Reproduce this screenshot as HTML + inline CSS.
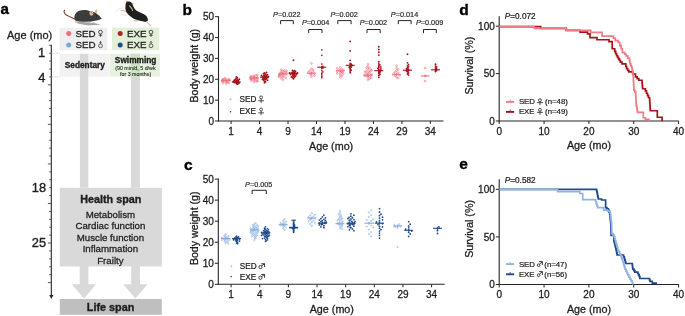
<!DOCTYPE html>
<html><head><meta charset="utf-8"><style>
html,body{margin:0;padding:0;background:#fff;}
svg{display:block;font-family:"Liberation Sans", sans-serif;will-change:transform;filter:blur(0.3px);}
</style></head><body>
<svg width="685" height="316" viewBox="0 0 685 316">
<rect width="685" height="316" fill="#fff"/>
<text x="0.6" y="14.2" font-size="15.2" text-anchor="start" font-weight="bold" font-style="normal" fill="#000" stroke="#000" stroke-width="0.35" >a</text>
<text x="7.0" y="39.2" font-size="11.0" text-anchor="start" font-weight="normal" font-style="normal" fill="#1e1e1e" stroke="#1e1e1e" stroke-width="0.308" >Age (mo)</text>
<rect x="59.7" y="27.8" width="47.5" height="22.4" fill="#efefef"/>
<rect x="112" y="27.6" width="47.2" height="22.6" fill="#e2f0d9"/>
<rect x="59.7" y="53.8" width="49.5" height="22.8" fill="#f2f2f2"/>
<rect x="109.7" y="53.8" width="50.3" height="22.8" fill="#e6f2de"/>
<rect x="79.9" y="53.8" width="8.4" height="134" fill="#d9d9d9"/>
<rect x="130.9" y="53.8" width="9" height="134" fill="#d9d9d9"/>
<rect x="130.9" y="53.8" width="9" height="22.8" fill="#cde3bf"/>
<rect x="59.8" y="187.8" width="102" height="78.7" fill="#d9d9d9"/>
<path d="M79.7 266 H88.4 V284.3 H96.2 L84 298.6 L71.8 284.3 H79.7 Z" fill="#d9d9d9" stroke="none" stroke-width="1" />
<path d="M131.2 266 H139.9 V284.3 H147.5 L135.3 298.6 L123.2 284.3 H131.2 Z" fill="#d9d9d9" stroke="none" stroke-width="1" />
<rect x="59.8" y="299" width="102" height="15.8" fill="#bfbfbf"/>
<circle cx="68.7" cy="33.5" r="2.5" fill="#ef6f7c"/>
<circle cx="68.7" cy="44.9" r="2.5" fill="#7fa6d8"/>
<circle cx="120.2" cy="33.5" r="2.5" fill="#b3232b"/>
<circle cx="120.2" cy="44.9" r="2.5" fill="#254a8c"/>
<text x="75.4" y="36.7" font-size="9.8" text-anchor="start" font-weight="normal" font-style="normal" fill="#1e1e1e" stroke="#1e1e1e" stroke-width="0.27440000000000003" >SED</text>
<text x="75.4" y="47.9" font-size="9.8" text-anchor="start" font-weight="normal" font-style="normal" fill="#1e1e1e" stroke="#1e1e1e" stroke-width="0.27440000000000003" >SED</text>
<text x="127.0" y="36.7" font-size="9.8" text-anchor="start" font-weight="normal" font-style="normal" fill="#1e1e1e" stroke="#1e1e1e" stroke-width="0.27440000000000003" >EXE</text>
<text x="127.0" y="47.9" font-size="9.8" text-anchor="start" font-weight="normal" font-style="normal" fill="#1e1e1e" stroke="#1e1e1e" stroke-width="0.27440000000000003" >EXE</text>
<circle cx="100.50" cy="32.10" r="1.87" fill="none" stroke="#333" stroke-width="0.85"/>
<line x1="100.5" y1="33.975" x2="100.5" y2="36.8" stroke="#333" stroke-width="0.85" />
<line x1="98.8" y1="35.246249999999996" x2="102.2" y2="35.246249999999996" stroke="#333" stroke-width="0.85" />
<circle cx="100.50" cy="45.80" r="1.92" fill="none" stroke="#333" stroke-width="0.75"/>
<line x1="100.5" y1="43.87500000000001" x2="100.5" y2="41.5" stroke="#333" stroke-width="0.75" />
<path d="M99.40 42.60 L100.50 41.40 L101.60 42.60" fill="none" stroke="#333" stroke-width="0.75" />
<circle cx="151.00" cy="32.10" r="1.87" fill="none" stroke="#333" stroke-width="0.85"/>
<line x1="151.0" y1="33.975" x2="151.0" y2="36.8" stroke="#333" stroke-width="0.85" />
<line x1="149.3" y1="35.246249999999996" x2="152.7" y2="35.246249999999996" stroke="#333" stroke-width="0.85" />
<circle cx="151.00" cy="45.80" r="1.92" fill="none" stroke="#333" stroke-width="0.75"/>
<line x1="151.0" y1="43.87500000000001" x2="151.0" y2="41.5" stroke="#333" stroke-width="0.75" />
<path d="M149.90 42.60 L151.00 41.40 L152.10 42.60" fill="none" stroke="#333" stroke-width="0.75" />
<text x="84.8" y="67.8" font-size="8.3" text-anchor="middle" font-weight="bold" font-style="normal" fill="#1e1e1e" stroke="#1e1e1e" stroke-width="0.35" >Sedentary</text>
<text x="135.6" y="63.1" font-size="8.3" text-anchor="middle" font-weight="bold" font-style="normal" fill="#1e1e1e" stroke="#1e1e1e" stroke-width="0.35" >Swimming</text>
<text x="135.4" y="70.3" font-size="5.3" text-anchor="middle" font-weight="normal" font-style="normal" fill="#1e1e1e" stroke="#1e1e1e" stroke-width="0.1" >(90 min/d, 5 d/wk</text>
<text x="135.6" y="75.9" font-size="5.3" text-anchor="middle" font-weight="normal" font-style="normal" fill="#1e1e1e" stroke="#1e1e1e" stroke-width="0.1" >for 3 months)</text>
<line x1="51.3" y1="44.8" x2="51.3" y2="296" stroke="#262626" stroke-width="1.1" />
<path d="M49.2 295 L53.4 295 L51.3 299 Z" fill="#262626" stroke="none" stroke-width="1" />
<line x1="49.2" y1="45.290000000000006" x2="51.5" y2="45.290000000000006" stroke="#444" stroke-width="0.9" />
<line x1="49.2" y1="53.2" x2="51.5" y2="53.2" stroke="#444" stroke-width="0.9" />
<line x1="49.2" y1="61.11" x2="51.5" y2="61.11" stroke="#444" stroke-width="0.9" />
<line x1="49.2" y1="69.02000000000001" x2="51.5" y2="69.02000000000001" stroke="#444" stroke-width="0.9" />
<line x1="49.2" y1="76.93" x2="51.5" y2="76.93" stroke="#444" stroke-width="0.9" />
<line x1="47.9" y1="84.84" x2="51.5" y2="84.84" stroke="#444" stroke-width="0.9" />
<line x1="49.2" y1="92.75" x2="51.5" y2="92.75" stroke="#444" stroke-width="0.9" />
<line x1="49.2" y1="100.66" x2="51.5" y2="100.66" stroke="#444" stroke-width="0.9" />
<line x1="49.2" y1="108.57000000000001" x2="51.5" y2="108.57000000000001" stroke="#444" stroke-width="0.9" />
<line x1="49.2" y1="116.48" x2="51.5" y2="116.48" stroke="#444" stroke-width="0.9" />
<line x1="47.9" y1="124.39" x2="51.5" y2="124.39" stroke="#444" stroke-width="0.9" />
<line x1="49.2" y1="132.3" x2="51.5" y2="132.3" stroke="#444" stroke-width="0.9" />
<line x1="49.2" y1="140.21" x2="51.5" y2="140.21" stroke="#444" stroke-width="0.9" />
<line x1="49.2" y1="148.12" x2="51.5" y2="148.12" stroke="#444" stroke-width="0.9" />
<line x1="49.2" y1="156.03" x2="51.5" y2="156.03" stroke="#444" stroke-width="0.9" />
<line x1="47.9" y1="163.94" x2="51.5" y2="163.94" stroke="#444" stroke-width="0.9" />
<line x1="49.2" y1="171.85000000000002" x2="51.5" y2="171.85000000000002" stroke="#444" stroke-width="0.9" />
<line x1="49.2" y1="179.76" x2="51.5" y2="179.76" stroke="#444" stroke-width="0.9" />
<line x1="49.2" y1="187.67000000000002" x2="51.5" y2="187.67000000000002" stroke="#444" stroke-width="0.9" />
<line x1="49.2" y1="195.57999999999998" x2="51.5" y2="195.57999999999998" stroke="#444" stroke-width="0.9" />
<line x1="47.9" y1="203.49" x2="51.5" y2="203.49" stroke="#444" stroke-width="0.9" />
<line x1="49.2" y1="211.39999999999998" x2="51.5" y2="211.39999999999998" stroke="#444" stroke-width="0.9" />
<line x1="49.2" y1="219.31" x2="51.5" y2="219.31" stroke="#444" stroke-width="0.9" />
<line x1="49.2" y1="227.22000000000003" x2="51.5" y2="227.22000000000003" stroke="#444" stroke-width="0.9" />
<line x1="49.2" y1="235.13" x2="51.5" y2="235.13" stroke="#444" stroke-width="0.9" />
<line x1="47.9" y1="243.04000000000002" x2="51.5" y2="243.04000000000002" stroke="#444" stroke-width="0.9" />
<line x1="49.2" y1="250.95" x2="51.5" y2="250.95" stroke="#444" stroke-width="0.9" />
<line x1="49.2" y1="258.86" x2="51.5" y2="258.86" stroke="#444" stroke-width="0.9" />
<line x1="49.2" y1="266.77" x2="51.5" y2="266.77" stroke="#444" stroke-width="0.9" />
<line x1="49.2" y1="274.68" x2="51.5" y2="274.68" stroke="#444" stroke-width="0.9" />
<line x1="47.9" y1="282.59000000000003" x2="51.5" y2="282.59000000000003" stroke="#444" stroke-width="0.9" />
<text x="45.2" y="57.1" font-size="12.8" text-anchor="end" font-weight="normal" font-style="normal" fill="#1e1e1e" stroke="#1e1e1e" stroke-width="0.35840000000000005" >1</text>
<text x="45.4" y="81.63000000000001" font-size="12.8" text-anchor="end" font-weight="normal" font-style="normal" fill="#1e1e1e" stroke="#1e1e1e" stroke-width="0.35840000000000005" >4</text>
<text x="46.0" y="192.37" font-size="12.8" text-anchor="end" font-weight="normal" font-style="normal" fill="#1e1e1e" stroke="#1e1e1e" stroke-width="0.35840000000000005" >18</text>
<text x="46.0" y="246.94000000000003" font-size="12.8" text-anchor="end" font-weight="normal" font-style="normal" fill="#1e1e1e" stroke="#1e1e1e" stroke-width="0.35840000000000005" >25</text>
<line x1="51.5" y1="53.2" x2="59.7" y2="53.2" stroke="#aaa" stroke-width="0.6" stroke-dasharray="1.5 1"/>
<line x1="51.5" y1="76.93" x2="59.7" y2="76.93" stroke="#aaa" stroke-width="0.6" stroke-dasharray="1.5 1"/>
<text x="110.75" y="203.1" font-size="10.8" text-anchor="middle" font-weight="bold" font-style="normal" fill="#1e1e1e" stroke="#1e1e1e" stroke-width="0.35" >Health span</text>
<text x="110.4" y="217.6" font-size="9.7" text-anchor="middle" font-weight="normal" font-style="normal" fill="#1e1e1e" stroke="#1e1e1e" stroke-width="0.2716" >Metabolism</text>
<text x="110.4" y="229.1" font-size="9.7" text-anchor="middle" font-weight="normal" font-style="normal" fill="#1e1e1e" stroke="#1e1e1e" stroke-width="0.2716" >Cardiac function</text>
<text x="110.4" y="240.6" font-size="9.7" text-anchor="middle" font-weight="normal" font-style="normal" fill="#1e1e1e" stroke="#1e1e1e" stroke-width="0.2716" >Muscle function</text>
<text x="110.4" y="252.1" font-size="9.7" text-anchor="middle" font-weight="normal" font-style="normal" fill="#1e1e1e" stroke="#1e1e1e" stroke-width="0.2716" >Inflammation</text>
<text x="110.4" y="263.6" font-size="9.7" text-anchor="middle" font-weight="normal" font-style="normal" fill="#1e1e1e" stroke="#1e1e1e" stroke-width="0.2716" >Frailty</text>
<text x="110.55" y="311" font-size="10.8" text-anchor="middle" font-weight="bold" font-style="normal" fill="#1e1e1e" stroke="#1e1e1e" stroke-width="0.35" >Life span</text>
<path d="M64.6 10.2 C63.6 10.8 64.0 13.0 65.6 14.4 C67.5 16 71 17.4 74.8 18.9" fill="none" stroke="#7a3e30" stroke-width="1.1" stroke-linecap="round"/>
<path d="M77 21.4 C84 22 94 22.4 101 24.6 C92 25.8 83 25.2 77 23.2 Z" fill="#8a8a8a" stroke="none" stroke-width="1" opacity="0.8"/>
<path d="M74.3 18 C74.2 14.5 76.2 11.8 79.2 10.8 C82.5 9.7 87 9.8 90 11.2 C92.5 11.6 94.8 12 96.5 13.4 C98.5 14.8 100.2 16.6 101.6 18.4 C100.5 19.5 98.5 19.9 96.5 20.5 C93 21.4 89 21.8 85 21.7 C81 21.7 77 21.3 75.3 20.4 C74.6 19.7 74.3 19 74.3 18 Z" fill="#3c3c3c" stroke="none" stroke-width="1" />
<path d="M89.4 12.4 C89.8 10.9 92 10.8 93.2 12 C94 13.2 93.2 15.4 91.6 15.8 C90.2 16 89.2 14 89.4 12.4 Z" fill="#d9b896" stroke="none" stroke-width="1" />
<path d="M90.6 12.6 C91.4 12.2 92.4 12.8 92.4 13.8" fill="none" stroke="#9b5a44" stroke-width="0.5" />
<path d="M94.6 12.4 C94.6 11 95.6 9.8 96.8 9.6 C97.4 10.6 97.4 12 96.8 13.4 Z" fill="#d9b896" stroke="none" stroke-width="1" />
<circle cx="96.5" cy="15.9" r="0.55" fill="#111"/>
<circle cx="101.6" cy="18.5" r="0.45" fill="#c0504d"/>
<path d="M74.6 21 C76 20.8 77.8 21.6 78.2 22.6 L75.8 22.9 Z" fill="#d9b896" stroke="none" stroke-width="1" />
<path d="M88 21.4 C89.5 21.6 90.8 22.6 91.4 23.8 L89 23.6 Z" fill="#d9b896" stroke="none" stroke-width="1" />
<path d="M92.6 21.8 C93.6 22 94.4 22.6 94.8 23.4 L93 23.4 Z" fill="#d9b896" stroke="none" stroke-width="1" />
<path d="M115.8 11.8 C117 9.4 119.6 8.2 122.8 8" fill="none" stroke="#cfcfcf" stroke-width="0.55" />
<path d="M120.2 13.2 C121.5 14.8 123.8 15.6 126.4 15.5" fill="none" stroke="#cfcfcf" stroke-width="0.55" />
<path d="M142 10.4 C142.8 10.8 143.2 11.4 143.2 12.1" fill="none" stroke="#d6d6d6" stroke-width="0.5" />
<path d="M126.4 2.0 C127.6 1 130.2 1.2 131.6 2.8 C132.8 4.6 133.4 7.4 135.4 9.8 C137.4 11.8 140.6 12.6 143.6 13.9 C146.4 15.3 148.2 17.6 147.9 20.2 C147.4 21.8 145.8 22 143.8 21.6 C141.2 21.1 138.4 20.5 135.6 19.5 C132.4 18.2 129.6 16.2 127.8 14.0 C126 12.0 125.2 9.6 125.4 7.2 C125.6 5.2 125.6 3.2 126.4 2.0 Z" fill="#1f1f1f" stroke="none" stroke-width="1" />
<path d="M129.6 5.8 C131 7.2 132.2 8.8 132.6 10.4" fill="none" stroke="#d9b896" stroke-width="1.1" stroke-linecap="round"/>
<path d="M121.1 10.4 C122.5 10.2 124 10.6 125.4 11.2" fill="none" stroke="#d9b896" stroke-width="1.1" stroke-linecap="round"/>
<path d="M134.4 20.4 C135.6 20.8 136.8 21 137.9 20.9" fill="none" stroke="#d9b896" stroke-width="1.1" stroke-linecap="round"/>
<path d="M146.8 21.8 C148 23 149.4 24.4 150.3 25.6" fill="none" stroke="#d9b896" stroke-width="1.1" stroke-linecap="round"/>
<circle cx="127.2" cy="1.5" r="0.7" fill="#c86464"/>
<path d="M131.6 3.2 C132.4 2.9 133 3.4 132.8 4.2" fill="none" stroke="#8a5040" stroke-width="0.7" />
<text x="182.4" y="14.7" font-size="15.5" text-anchor="start" font-weight="bold" font-style="normal" fill="#000" stroke="#000" stroke-width="0.35" >b</text>
<line x1="218.5" y1="16.2" x2="218.5" y2="121.5" stroke="#262626" stroke-width="1.1" />
<line x1="218.0" y1="121" x2="443.5" y2="121" stroke="#262626" stroke-width="1.1" />
<line x1="215.0" y1="121.0" x2="218.5" y2="121.0" stroke="#262626" stroke-width="1" />
<text x="214.0" y="124.6" font-size="10" text-anchor="end" font-weight="normal" font-style="normal" fill="#1e1e1e" stroke="#1e1e1e" stroke-width="0.28" >0</text>
<line x1="215.0" y1="100.14" x2="218.5" y2="100.14" stroke="#262626" stroke-width="1" />
<text x="214.0" y="103.74" font-size="10" text-anchor="end" font-weight="normal" font-style="normal" fill="#1e1e1e" stroke="#1e1e1e" stroke-width="0.28" >10</text>
<line x1="215.0" y1="79.28" x2="218.5" y2="79.28" stroke="#262626" stroke-width="1" />
<text x="214.0" y="82.88" font-size="10" text-anchor="end" font-weight="normal" font-style="normal" fill="#1e1e1e" stroke="#1e1e1e" stroke-width="0.28" >20</text>
<line x1="215.0" y1="58.42" x2="218.5" y2="58.42" stroke="#262626" stroke-width="1" />
<text x="214.0" y="62.02" font-size="10" text-anchor="end" font-weight="normal" font-style="normal" fill="#1e1e1e" stroke="#1e1e1e" stroke-width="0.28" >30</text>
<line x1="215.0" y1="37.56" x2="218.5" y2="37.56" stroke="#262626" stroke-width="1" />
<text x="214.0" y="41.160000000000004" font-size="10" text-anchor="end" font-weight="normal" font-style="normal" fill="#1e1e1e" stroke="#1e1e1e" stroke-width="0.28" >40</text>
<line x1="215.0" y1="16.700000000000003" x2="218.5" y2="16.700000000000003" stroke="#262626" stroke-width="1" />
<text x="214.0" y="20.300000000000004" font-size="10" text-anchor="end" font-weight="normal" font-style="normal" fill="#1e1e1e" stroke="#1e1e1e" stroke-width="0.28" >50</text>
<line x1="231.1" y1="121" x2="231.1" y2="124" stroke="#262626" stroke-width="1" />
<text x="231.1" y="134.5" font-size="10" text-anchor="middle" font-weight="normal" font-style="normal" fill="#1e1e1e" stroke="#1e1e1e" stroke-width="0.28" >1</text>
<line x1="259.57" y1="121" x2="259.57" y2="124" stroke="#262626" stroke-width="1" />
<text x="259.57" y="134.5" font-size="10" text-anchor="middle" font-weight="normal" font-style="normal" fill="#1e1e1e" stroke="#1e1e1e" stroke-width="0.28" >4</text>
<line x1="288.03999999999996" y1="121" x2="288.03999999999996" y2="124" stroke="#262626" stroke-width="1" />
<text x="288.03999999999996" y="134.5" font-size="10" text-anchor="middle" font-weight="normal" font-style="normal" fill="#1e1e1e" stroke="#1e1e1e" stroke-width="0.28" >9</text>
<line x1="316.51" y1="121" x2="316.51" y2="124" stroke="#262626" stroke-width="1" />
<text x="316.51" y="134.5" font-size="10" text-anchor="middle" font-weight="normal" font-style="normal" fill="#1e1e1e" stroke="#1e1e1e" stroke-width="0.28" >14</text>
<line x1="344.98" y1="121" x2="344.98" y2="124" stroke="#262626" stroke-width="1" />
<text x="344.98" y="134.5" font-size="10" text-anchor="middle" font-weight="normal" font-style="normal" fill="#1e1e1e" stroke="#1e1e1e" stroke-width="0.28" >19</text>
<line x1="373.45" y1="121" x2="373.45" y2="124" stroke="#262626" stroke-width="1" />
<text x="373.45" y="134.5" font-size="10" text-anchor="middle" font-weight="normal" font-style="normal" fill="#1e1e1e" stroke="#1e1e1e" stroke-width="0.28" >24</text>
<line x1="401.91999999999996" y1="121" x2="401.91999999999996" y2="124" stroke="#262626" stroke-width="1" />
<text x="401.91999999999996" y="134.5" font-size="10" text-anchor="middle" font-weight="normal" font-style="normal" fill="#1e1e1e" stroke="#1e1e1e" stroke-width="0.28" >29</text>
<line x1="430.39" y1="121" x2="430.39" y2="124" stroke="#262626" stroke-width="1" />
<text x="430.39" y="134.5" font-size="10" text-anchor="middle" font-weight="normal" font-style="normal" fill="#1e1e1e" stroke="#1e1e1e" stroke-width="0.28" >34</text>
<text x="331.1" y="149.9" font-size="10.75" text-anchor="middle" font-weight="normal" font-style="normal" fill="#1e1e1e" stroke="#1e1e1e" stroke-width="0.301" >Age (mo)</text>
<text transform="translate(198.1 65.7) rotate(-90)" font-size="10.6" text-anchor="middle" fill="#1e1e1e" stroke="#1e1e1e" stroke-width="0.29">Body weight (g)</text>
<circle cx="225.80" cy="80.62" r="0.9000000000000001" fill="none" stroke="#ee7482" stroke-width="0.62"/>
<circle cx="228.80" cy="80.36" r="0.9000000000000001" fill="none" stroke="#ee7482" stroke-width="0.62"/>
<circle cx="222.80" cy="80.66" r="0.9000000000000001" fill="none" stroke="#ee7482" stroke-width="0.62"/>
<circle cx="229.80" cy="80.25" r="0.9000000000000001" fill="none" stroke="#ee7482" stroke-width="0.62"/>
<circle cx="221.99" cy="80.82" r="0.9000000000000001" fill="none" stroke="#ee7482" stroke-width="0.62"/>
<circle cx="228.81" cy="79.90" r="0.9000000000000001" fill="none" stroke="#ee7482" stroke-width="0.62"/>
<circle cx="224.03" cy="79.89" r="0.9000000000000001" fill="none" stroke="#ee7482" stroke-width="0.62"/>
<circle cx="222.81" cy="79.78" r="0.9000000000000001" fill="none" stroke="#ee7482" stroke-width="0.62"/>
<circle cx="222.59" cy="81.22" r="0.9000000000000001" fill="none" stroke="#ee7482" stroke-width="0.62"/>
<circle cx="224.19" cy="81.49" r="0.9000000000000001" fill="none" stroke="#ee7482" stroke-width="0.62"/>
<circle cx="228.46" cy="79.32" r="0.9000000000000001" fill="none" stroke="#ee7482" stroke-width="0.62"/>
<circle cx="227.30" cy="81.68" r="0.9000000000000001" fill="none" stroke="#ee7482" stroke-width="0.62"/>
<circle cx="223.12" cy="79.26" r="0.9000000000000001" fill="none" stroke="#ee7482" stroke-width="0.62"/>
<circle cx="226.49" cy="81.81" r="0.9000000000000001" fill="none" stroke="#ee7482" stroke-width="0.62"/>
<circle cx="225.80" cy="78.68" r="0.9000000000000001" fill="none" stroke="#ee7482" stroke-width="0.62"/>
<circle cx="226.97" cy="82.34" r="0.9000000000000001" fill="none" stroke="#ee7482" stroke-width="0.62"/>
<circle cx="224.73" cy="78.28" r="0.9000000000000001" fill="none" stroke="#ee7482" stroke-width="0.62"/>
<circle cx="228.80" cy="82.86" r="0.9000000000000001" fill="none" stroke="#ee7482" stroke-width="0.62"/>
<circle cx="222.80" cy="83.05" r="0.9000000000000001" fill="none" stroke="#ee7482" stroke-width="0.62"/>
<circle cx="226.20" cy="83.53" r="0.9000000000000001" fill="none" stroke="#ee7482" stroke-width="0.62"/>
<line x1="221.3" y1="80.5" x2="230.3" y2="80.5" stroke="#ee7482" stroke-width="1.1" />
<line x1="225.8" y1="79.3" x2="225.8" y2="81.7" stroke="#ee7482" stroke-width="1.1" />
<circle cx="236.30" cy="82.05" r="0.95" fill="#a8121a"/>
<circle cx="238.30" cy="81.85" r="0.95" fill="#a8121a"/>
<circle cx="234.30" cy="82.50" r="0.95" fill="#a8121a"/>
<circle cx="235.30" cy="81.44" r="0.95" fill="#a8121a"/>
<circle cx="233.30" cy="81.42" r="0.95" fill="#a8121a"/>
<circle cx="237.30" cy="82.67" r="0.95" fill="#a8121a"/>
<circle cx="239.30" cy="82.70" r="0.95" fill="#a8121a"/>
<circle cx="237.30" cy="81.24" r="0.95" fill="#a8121a"/>
<circle cx="236.30" cy="80.67" r="0.95" fill="#a8121a"/>
<circle cx="236.30" cy="83.35" r="0.95" fill="#a8121a"/>
<circle cx="238.30" cy="83.45" r="0.95" fill="#a8121a"/>
<circle cx="238.30" cy="80.47" r="0.95" fill="#a8121a"/>
<circle cx="234.30" cy="80.24" r="0.95" fill="#a8121a"/>
<circle cx="237.30" cy="84.13" r="0.95" fill="#a8121a"/>
<circle cx="237.30" cy="79.74" r="0.95" fill="#a8121a"/>
<circle cx="235.30" cy="79.44" r="0.95" fill="#a8121a"/>
<circle cx="239.30" cy="79.18" r="0.95" fill="#a8121a"/>
<circle cx="236.30" cy="78.42" r="0.95" fill="#a8121a"/>
<circle cx="237.30" cy="77.75" r="0.95" fill="#a8121a"/>
<circle cx="236.30" cy="76.90" r="0.95" fill="#a8121a"/>
<line x1="231.8" y1="82" x2="240.8" y2="82" stroke="#a8121a" stroke-width="1.1" />
<line x1="236.3" y1="80.6" x2="236.3" y2="83.4" stroke="#a8121a" stroke-width="1.1" />
<circle cx="254.30" cy="78.01" r="0.9000000000000001" fill="none" stroke="#ee7482" stroke-width="0.62"/>
<circle cx="257.30" cy="77.87" r="0.9000000000000001" fill="none" stroke="#ee7482" stroke-width="0.62"/>
<circle cx="251.30" cy="78.20" r="0.9000000000000001" fill="none" stroke="#ee7482" stroke-width="0.62"/>
<circle cx="255.72" cy="78.33" r="0.9000000000000001" fill="none" stroke="#ee7482" stroke-width="0.62"/>
<circle cx="250.29" cy="77.54" r="0.9000000000000001" fill="none" stroke="#ee7482" stroke-width="0.62"/>
<circle cx="253.98" cy="77.43" r="0.9000000000000001" fill="none" stroke="#ee7482" stroke-width="0.62"/>
<circle cx="251.51" cy="78.78" r="0.9000000000000001" fill="none" stroke="#ee7482" stroke-width="0.62"/>
<circle cx="251.08" cy="77.11" r="0.9000000000000001" fill="none" stroke="#ee7482" stroke-width="0.62"/>
<circle cx="250.60" cy="79.02" r="0.9000000000000001" fill="none" stroke="#ee7482" stroke-width="0.62"/>
<circle cx="256.55" cy="76.97" r="0.9000000000000001" fill="none" stroke="#ee7482" stroke-width="0.62"/>
<circle cx="251.19" cy="79.07" r="0.9000000000000001" fill="none" stroke="#ee7482" stroke-width="0.62"/>
<circle cx="252.18" cy="79.30" r="0.9000000000000001" fill="none" stroke="#ee7482" stroke-width="0.62"/>
<circle cx="253.38" cy="76.62" r="0.9000000000000001" fill="none" stroke="#ee7482" stroke-width="0.62"/>
<circle cx="257.42" cy="79.39" r="0.9000000000000001" fill="none" stroke="#ee7482" stroke-width="0.62"/>
<circle cx="254.30" cy="79.97" r="0.9000000000000001" fill="none" stroke="#ee7482" stroke-width="0.62"/>
<circle cx="250.78" cy="75.92" r="0.9000000000000001" fill="none" stroke="#ee7482" stroke-width="0.62"/>
<circle cx="253.87" cy="75.82" r="0.9000000000000001" fill="none" stroke="#ee7482" stroke-width="0.62"/>
<circle cx="254.72" cy="80.26" r="0.9000000000000001" fill="none" stroke="#ee7482" stroke-width="0.62"/>
<circle cx="251.30" cy="80.83" r="0.9000000000000001" fill="none" stroke="#ee7482" stroke-width="0.62"/>
<circle cx="255.80" cy="75.16" r="0.9000000000000001" fill="none" stroke="#ee7482" stroke-width="0.62"/>
<circle cx="257.30" cy="81.14" r="0.9000000000000001" fill="none" stroke="#ee7482" stroke-width="0.62"/>
<circle cx="257.52" cy="74.86" r="0.9000000000000001" fill="none" stroke="#ee7482" stroke-width="0.62"/>
<circle cx="256.98" cy="81.32" r="0.9000000000000001" fill="none" stroke="#ee7482" stroke-width="0.62"/>
<circle cx="254.30" cy="82.12" r="0.9000000000000001" fill="none" stroke="#ee7482" stroke-width="0.62"/>
<line x1="249.8" y1="78" x2="258.8" y2="78" stroke="#ee7482" stroke-width="1.1" />
<line x1="254.3" y1="76.8" x2="254.3" y2="79.2" stroke="#ee7482" stroke-width="1.1" />
<circle cx="264.50" cy="77.08" r="0.95" fill="#a8121a"/>
<circle cx="266.50" cy="76.98" r="0.95" fill="#a8121a"/>
<circle cx="262.50" cy="76.93" r="0.95" fill="#a8121a"/>
<circle cx="267.50" cy="77.59" r="0.95" fill="#a8121a"/>
<circle cx="268.50" cy="76.61" r="0.95" fill="#a8121a"/>
<circle cx="265.50" cy="77.84" r="0.95" fill="#a8121a"/>
<circle cx="265.50" cy="76.18" r="0.95" fill="#a8121a"/>
<circle cx="263.50" cy="78.24" r="0.95" fill="#a8121a"/>
<circle cx="263.50" cy="75.89" r="0.95" fill="#a8121a"/>
<circle cx="266.50" cy="75.55" r="0.95" fill="#a8121a"/>
<circle cx="266.50" cy="78.78" r="0.95" fill="#a8121a"/>
<circle cx="261.50" cy="75.34" r="0.95" fill="#a8121a"/>
<circle cx="264.50" cy="78.94" r="0.95" fill="#a8121a"/>
<circle cx="264.50" cy="75.21" r="0.95" fill="#a8121a"/>
<circle cx="262.50" cy="79.18" r="0.95" fill="#a8121a"/>
<circle cx="267.50" cy="74.91" r="0.95" fill="#a8121a"/>
<circle cx="265.50" cy="79.61" r="0.95" fill="#a8121a"/>
<circle cx="265.50" cy="74.16" r="0.95" fill="#a8121a"/>
<circle cx="263.50" cy="80.05" r="0.95" fill="#a8121a"/>
<circle cx="267.50" cy="80.13" r="0.95" fill="#a8121a"/>
<circle cx="263.50" cy="73.69" r="0.95" fill="#a8121a"/>
<circle cx="264.50" cy="81.17" r="0.95" fill="#a8121a"/>
<circle cx="264.50" cy="72.99" r="0.95" fill="#a8121a"/>
<circle cx="265.50" cy="81.74" r="0.95" fill="#a8121a"/>
<circle cx="266.50" cy="72.44" r="0.95" fill="#a8121a"/>
<circle cx="264.50" cy="82.74" r="0.95" fill="#a8121a"/>
<line x1="260.0" y1="77.1" x2="269.0" y2="77.1" stroke="#a8121a" stroke-width="1.1" />
<line x1="264.5" y1="75.69999999999999" x2="264.5" y2="78.5" stroke="#a8121a" stroke-width="1.1" />
<circle cx="282.80" cy="73.90" r="0.9000000000000001" fill="none" stroke="#ee7482" stroke-width="0.62"/>
<circle cx="285.80" cy="74.26" r="0.9000000000000001" fill="none" stroke="#ee7482" stroke-width="0.62"/>
<circle cx="279.80" cy="73.66" r="0.9000000000000001" fill="none" stroke="#ee7482" stroke-width="0.62"/>
<circle cx="286.94" cy="73.56" r="0.9000000000000001" fill="none" stroke="#ee7482" stroke-width="0.62"/>
<circle cx="282.51" cy="74.52" r="0.9000000000000001" fill="none" stroke="#ee7482" stroke-width="0.62"/>
<circle cx="282.66" cy="73.16" r="0.9000000000000001" fill="none" stroke="#ee7482" stroke-width="0.62"/>
<circle cx="279.32" cy="74.99" r="0.9000000000000001" fill="none" stroke="#ee7482" stroke-width="0.62"/>
<circle cx="279.46" cy="75.10" r="0.9000000000000001" fill="none" stroke="#ee7482" stroke-width="0.62"/>
<circle cx="281.48" cy="72.88" r="0.9000000000000001" fill="none" stroke="#ee7482" stroke-width="0.62"/>
<circle cx="284.30" cy="72.47" r="0.9000000000000001" fill="none" stroke="#ee7482" stroke-width="0.62"/>
<circle cx="280.82" cy="72.11" r="0.9000000000000001" fill="none" stroke="#ee7482" stroke-width="0.62"/>
<circle cx="285.56" cy="72.06" r="0.9000000000000001" fill="none" stroke="#ee7482" stroke-width="0.62"/>
<circle cx="284.30" cy="75.95" r="0.9000000000000001" fill="none" stroke="#ee7482" stroke-width="0.62"/>
<circle cx="281.30" cy="76.16" r="0.9000000000000001" fill="none" stroke="#ee7482" stroke-width="0.62"/>
<circle cx="279.96" cy="76.28" r="0.9000000000000001" fill="none" stroke="#ee7482" stroke-width="0.62"/>
<circle cx="282.80" cy="71.31" r="0.9000000000000001" fill="none" stroke="#ee7482" stroke-width="0.62"/>
<circle cx="278.79" cy="76.77" r="0.9000000000000001" fill="none" stroke="#ee7482" stroke-width="0.62"/>
<circle cx="286.59" cy="70.99" r="0.9000000000000001" fill="none" stroke="#ee7482" stroke-width="0.62"/>
<circle cx="282.80" cy="77.31" r="0.9000000000000001" fill="none" stroke="#ee7482" stroke-width="0.62"/>
<circle cx="284.30" cy="70.36" r="0.9000000000000001" fill="none" stroke="#ee7482" stroke-width="0.62"/>
<circle cx="285.80" cy="77.88" r="0.9000000000000001" fill="none" stroke="#ee7482" stroke-width="0.62"/>
<circle cx="281.30" cy="69.71" r="0.9000000000000001" fill="none" stroke="#ee7482" stroke-width="0.62"/>
<circle cx="281.30" cy="78.42" r="0.9000000000000001" fill="none" stroke="#ee7482" stroke-width="0.62"/>
<circle cx="282.80" cy="79.85" r="0.9000000000000001" fill="none" stroke="#ee7482" stroke-width="0.62"/>
<line x1="278.3" y1="74" x2="287.3" y2="74" stroke="#ee7482" stroke-width="1.1" />
<line x1="282.8" y1="72.8" x2="282.8" y2="75.2" stroke="#ee7482" stroke-width="1.1" />
<circle cx="293.50" cy="73.35" r="0.95" fill="#a8121a"/>
<circle cx="295.50" cy="73.46" r="0.95" fill="#a8121a"/>
<circle cx="291.50" cy="73.09" r="0.95" fill="#a8121a"/>
<circle cx="297.50" cy="73.06" r="0.95" fill="#a8121a"/>
<circle cx="289.50" cy="72.95" r="0.95" fill="#a8121a"/>
<circle cx="294.50" cy="72.75" r="0.95" fill="#a8121a"/>
<circle cx="294.50" cy="74.06" r="0.95" fill="#a8121a"/>
<circle cx="292.50" cy="74.16" r="0.95" fill="#a8121a"/>
<circle cx="292.50" cy="72.19" r="0.95" fill="#a8121a"/>
<circle cx="296.50" cy="74.56" r="0.95" fill="#a8121a"/>
<circle cx="290.50" cy="74.56" r="0.95" fill="#a8121a"/>
<circle cx="293.50" cy="74.78" r="0.95" fill="#a8121a"/>
<circle cx="293.50" cy="71.56" r="0.95" fill="#a8121a"/>
<circle cx="295.50" cy="71.49" r="0.95" fill="#a8121a"/>
<circle cx="294.50" cy="75.43" r="0.95" fill="#a8121a"/>
<circle cx="294.50" cy="70.79" r="0.95" fill="#a8121a"/>
<circle cx="292.50" cy="75.86" r="0.95" fill="#a8121a"/>
<circle cx="295.50" cy="76.13" r="0.95" fill="#a8121a"/>
<circle cx="292.50" cy="70.34" r="0.95" fill="#a8121a"/>
<circle cx="293.50" cy="76.48" r="0.95" fill="#a8121a"/>
<circle cx="291.50" cy="76.91" r="0.95" fill="#a8121a"/>
<circle cx="294.50" cy="77.36" r="0.95" fill="#a8121a"/>
<circle cx="292.50" cy="77.65" r="0.95" fill="#a8121a"/>
<circle cx="293.50" cy="78.71" r="0.95" fill="#a8121a"/>
<circle cx="293.50" cy="60.30" r="0.95" fill="#a8121a"/>
<line x1="289.0" y1="73.3" x2="298.0" y2="73.3" stroke="#a8121a" stroke-width="1.1" />
<line x1="293.5" y1="71.89999999999999" x2="293.5" y2="74.7" stroke="#a8121a" stroke-width="1.1" />
<circle cx="311.40" cy="72.96" r="0.9000000000000001" fill="none" stroke="#ee7482" stroke-width="0.62"/>
<circle cx="314.40" cy="73.63" r="0.9000000000000001" fill="none" stroke="#ee7482" stroke-width="0.62"/>
<circle cx="309.90" cy="73.87" r="0.9000000000000001" fill="none" stroke="#ee7482" stroke-width="0.62"/>
<circle cx="308.40" cy="72.14" r="0.9000000000000001" fill="none" stroke="#ee7482" stroke-width="0.62"/>
<circle cx="311.40" cy="74.80" r="0.9000000000000001" fill="none" stroke="#ee7482" stroke-width="0.62"/>
<circle cx="312.90" cy="71.53" r="0.9000000000000001" fill="none" stroke="#ee7482" stroke-width="0.62"/>
<circle cx="314.40" cy="75.61" r="0.9000000000000001" fill="none" stroke="#ee7482" stroke-width="0.62"/>
<circle cx="309.90" cy="70.65" r="0.9000000000000001" fill="none" stroke="#ee7482" stroke-width="0.62"/>
<circle cx="312.90" cy="69.77" r="0.9000000000000001" fill="none" stroke="#ee7482" stroke-width="0.62"/>
<circle cx="311.40" cy="76.72" r="0.9000000000000001" fill="none" stroke="#ee7482" stroke-width="0.62"/>
<circle cx="311.40" cy="68.67" r="0.9000000000000001" fill="none" stroke="#ee7482" stroke-width="0.62"/>
<circle cx="311.40" cy="63.40" r="0.9000000000000001" fill="none" stroke="#ee7482" stroke-width="0.62"/>
<line x1="306.9" y1="73.2" x2="315.9" y2="73.2" stroke="#ee7482" stroke-width="1.1" />
<line x1="311.4" y1="72.0" x2="311.4" y2="74.4" stroke="#ee7482" stroke-width="1.1" />
<circle cx="321.80" cy="67.20" r="0.85" fill="#a8121a"/>
<circle cx="322.90" cy="67.90" r="0.85" fill="#a8121a"/>
<circle cx="322.90" cy="66.40" r="0.85" fill="#a8121a"/>
<circle cx="321.80" cy="68.60" r="0.85" fill="#a8121a"/>
<circle cx="321.80" cy="64.00" r="0.85" fill="#a8121a"/>
<circle cx="321.80" cy="70.50" r="0.85" fill="#a8121a"/>
<circle cx="322.90" cy="71.80" r="0.85" fill="#a8121a"/>
<circle cx="321.80" cy="73.20" r="0.85" fill="#a8121a"/>
<circle cx="321.80" cy="74.80" r="0.85" fill="#a8121a"/>
<circle cx="321.80" cy="76.30" r="0.85" fill="#a8121a"/>
<circle cx="321.80" cy="77.80" r="0.85" fill="#a8121a"/>
<circle cx="321.80" cy="55.30" r="0.85" fill="#a8121a"/>
<circle cx="321.80" cy="49.80" r="0.85" fill="#a8121a"/>
<line x1="317.3" y1="67.2" x2="326.3" y2="67.2" stroke="#a8121a" stroke-width="1.1" />
<line x1="321.8" y1="65.8" x2="321.8" y2="68.60000000000001" stroke="#a8121a" stroke-width="1.1" />
<circle cx="340.30" cy="70.86" r="0.9000000000000001" fill="none" stroke="#ee7482" stroke-width="0.62"/>
<circle cx="343.30" cy="70.15" r="0.9000000000000001" fill="none" stroke="#ee7482" stroke-width="0.62"/>
<circle cx="337.30" cy="71.47" r="0.9000000000000001" fill="none" stroke="#ee7482" stroke-width="0.62"/>
<circle cx="341.80" cy="71.90" r="0.9000000000000001" fill="none" stroke="#ee7482" stroke-width="0.62"/>
<circle cx="338.80" cy="69.63" r="0.9000000000000001" fill="none" stroke="#ee7482" stroke-width="0.62"/>
<circle cx="342.40" cy="72.19" r="0.9000000000000001" fill="none" stroke="#ee7482" stroke-width="0.62"/>
<circle cx="341.80" cy="69.06" r="0.9000000000000001" fill="none" stroke="#ee7482" stroke-width="0.62"/>
<circle cx="340.30" cy="72.84" r="0.9000000000000001" fill="none" stroke="#ee7482" stroke-width="0.62"/>
<circle cx="337.30" cy="68.33" r="0.9000000000000001" fill="none" stroke="#ee7482" stroke-width="0.62"/>
<circle cx="337.30" cy="73.52" r="0.9000000000000001" fill="none" stroke="#ee7482" stroke-width="0.62"/>
<circle cx="343.30" cy="73.76" r="0.9000000000000001" fill="none" stroke="#ee7482" stroke-width="0.62"/>
<circle cx="340.30" cy="67.36" r="0.9000000000000001" fill="none" stroke="#ee7482" stroke-width="0.62"/>
<circle cx="340.30" cy="74.88" r="0.9000000000000001" fill="none" stroke="#ee7482" stroke-width="0.62"/>
<circle cx="341.80" cy="75.98" r="0.9000000000000001" fill="none" stroke="#ee7482" stroke-width="0.62"/>
<circle cx="340.30" cy="77.28" r="0.9000000000000001" fill="none" stroke="#ee7482" stroke-width="0.62"/>
<line x1="335.8" y1="70.8" x2="344.8" y2="70.8" stroke="#ee7482" stroke-width="1.1" />
<line x1="340.3" y1="69.6" x2="340.3" y2="72.0" stroke="#ee7482" stroke-width="1.1" />
<circle cx="350.20" cy="65.19" r="0.95" fill="#a8121a"/>
<circle cx="352.20" cy="65.48" r="0.95" fill="#a8121a"/>
<circle cx="350.20" cy="66.34" r="0.95" fill="#a8121a"/>
<circle cx="351.20" cy="64.14" r="0.95" fill="#a8121a"/>
<circle cx="351.20" cy="67.07" r="0.95" fill="#a8121a"/>
<circle cx="350.20" cy="63.33" r="0.95" fill="#a8121a"/>
<circle cx="349.20" cy="67.40" r="0.95" fill="#a8121a"/>
<circle cx="350.20" cy="68.14" r="0.95" fill="#a8121a"/>
<circle cx="350.20" cy="69.29" r="0.95" fill="#a8121a"/>
<circle cx="351.20" cy="70.12" r="0.95" fill="#a8121a"/>
<circle cx="350.20" cy="60.40" r="0.95" fill="#a8121a"/>
<circle cx="350.20" cy="70.96" r="0.95" fill="#a8121a"/>
<circle cx="350.20" cy="72.64" r="0.95" fill="#a8121a"/>
<circle cx="350.20" cy="50.90" r="0.95" fill="#a8121a"/>
<circle cx="350.20" cy="41.40" r="0.95" fill="#a8121a"/>
<line x1="345.7" y1="65.3" x2="354.7" y2="65.3" stroke="#a8121a" stroke-width="1.1" />
<line x1="350.2" y1="63.9" x2="350.2" y2="66.7" stroke="#a8121a" stroke-width="1.1" />
<circle cx="368.00" cy="75.50" r="0.9000000000000001" fill="none" stroke="#ee7482" stroke-width="0.62"/>
<circle cx="371.00" cy="74.84" r="0.9000000000000001" fill="none" stroke="#ee7482" stroke-width="0.62"/>
<circle cx="365.00" cy="74.73" r="0.9000000000000001" fill="none" stroke="#ee7482" stroke-width="0.62"/>
<circle cx="367.32" cy="75.89" r="0.9000000000000001" fill="none" stroke="#ee7482" stroke-width="0.62"/>
<circle cx="364.90" cy="75.97" r="0.9000000000000001" fill="none" stroke="#ee7482" stroke-width="0.62"/>
<circle cx="371.44" cy="74.06" r="0.9000000000000001" fill="none" stroke="#ee7482" stroke-width="0.62"/>
<circle cx="369.50" cy="76.49" r="0.9000000000000001" fill="none" stroke="#ee7482" stroke-width="0.62"/>
<circle cx="368.00" cy="73.69" r="0.9000000000000001" fill="none" stroke="#ee7482" stroke-width="0.62"/>
<circle cx="366.77" cy="73.42" r="0.9000000000000001" fill="none" stroke="#ee7482" stroke-width="0.62"/>
<circle cx="367.65" cy="77.06" r="0.9000000000000001" fill="none" stroke="#ee7482" stroke-width="0.62"/>
<circle cx="371.00" cy="77.67" r="0.9000000000000001" fill="none" stroke="#ee7482" stroke-width="0.62"/>
<circle cx="369.50" cy="72.36" r="0.9000000000000001" fill="none" stroke="#ee7482" stroke-width="0.62"/>
<circle cx="365.00" cy="71.93" r="0.9000000000000001" fill="none" stroke="#ee7482" stroke-width="0.62"/>
<circle cx="369.50" cy="78.66" r="0.9000000000000001" fill="none" stroke="#ee7482" stroke-width="0.62"/>
<circle cx="368.70" cy="71.65" r="0.9000000000000001" fill="none" stroke="#ee7482" stroke-width="0.62"/>
<circle cx="366.50" cy="70.96" r="0.9000000000000001" fill="none" stroke="#ee7482" stroke-width="0.62"/>
<circle cx="368.00" cy="79.60" r="0.9000000000000001" fill="none" stroke="#ee7482" stroke-width="0.62"/>
<circle cx="371.00" cy="70.54" r="0.9000000000000001" fill="none" stroke="#ee7482" stroke-width="0.62"/>
<circle cx="371.40" cy="70.08" r="0.9000000000000001" fill="none" stroke="#ee7482" stroke-width="0.62"/>
<circle cx="368.00" cy="69.28" r="0.9000000000000001" fill="none" stroke="#ee7482" stroke-width="0.62"/>
<circle cx="369.50" cy="68.07" r="0.9000000000000001" fill="none" stroke="#ee7482" stroke-width="0.62"/>
<circle cx="366.50" cy="67.54" r="0.9000000000000001" fill="none" stroke="#ee7482" stroke-width="0.62"/>
<circle cx="368.00" cy="66.46" r="0.9000000000000001" fill="none" stroke="#ee7482" stroke-width="0.62"/>
<circle cx="368.00" cy="64.35" r="0.9000000000000001" fill="none" stroke="#ee7482" stroke-width="0.62"/>
<line x1="363.5" y1="75.2" x2="372.5" y2="75.2" stroke="#ee7482" stroke-width="1.1" />
<line x1="368.0" y1="74.0" x2="368.0" y2="76.4" stroke="#ee7482" stroke-width="1.1" />
<circle cx="378.80" cy="70.67" r="0.95" fill="#a8121a"/>
<circle cx="380.80" cy="70.48" r="0.95" fill="#a8121a"/>
<circle cx="379.80" cy="71.44" r="0.95" fill="#a8121a"/>
<circle cx="378.80" cy="69.40" r="0.95" fill="#a8121a"/>
<circle cx="378.80" cy="72.23" r="0.95" fill="#a8121a"/>
<circle cx="380.80" cy="68.88" r="0.95" fill="#a8121a"/>
<circle cx="379.80" cy="72.82" r="0.95" fill="#a8121a"/>
<circle cx="377.80" cy="68.36" r="0.95" fill="#a8121a"/>
<circle cx="378.80" cy="73.46" r="0.95" fill="#a8121a"/>
<circle cx="378.80" cy="67.38" r="0.95" fill="#a8121a"/>
<circle cx="379.80" cy="74.48" r="0.95" fill="#a8121a"/>
<circle cx="380.80" cy="66.88" r="0.95" fill="#a8121a"/>
<circle cx="378.80" cy="65.99" r="0.95" fill="#a8121a"/>
<circle cx="378.80" cy="75.62" r="0.95" fill="#a8121a"/>
<circle cx="379.80" cy="64.94" r="0.95" fill="#a8121a"/>
<circle cx="378.80" cy="77.37" r="0.95" fill="#a8121a"/>
<circle cx="378.80" cy="63.92" r="0.95" fill="#a8121a"/>
<circle cx="378.80" cy="61.78" r="0.95" fill="#a8121a"/>
<circle cx="378.80" cy="55.10" r="0.95" fill="#a8121a"/>
<circle cx="378.80" cy="52.30" r="0.95" fill="#a8121a"/>
<circle cx="378.80" cy="49.50" r="0.95" fill="#a8121a"/>
<circle cx="378.80" cy="46.70" r="0.95" fill="#a8121a"/>
<line x1="374.3" y1="70.7" x2="383.3" y2="70.7" stroke="#a8121a" stroke-width="1.1" />
<line x1="378.8" y1="69.3" x2="378.8" y2="72.10000000000001" stroke="#a8121a" stroke-width="1.1" />
<circle cx="396.60" cy="74.39" r="0.9000000000000001" fill="none" stroke="#ee7482" stroke-width="0.62"/>
<circle cx="399.60" cy="75.22" r="0.9000000000000001" fill="none" stroke="#ee7482" stroke-width="0.62"/>
<circle cx="393.60" cy="73.51" r="0.9000000000000001" fill="none" stroke="#ee7482" stroke-width="0.62"/>
<circle cx="395.10" cy="75.76" r="0.9000000000000001" fill="none" stroke="#ee7482" stroke-width="0.62"/>
<circle cx="398.10" cy="72.66" r="0.9000000000000001" fill="none" stroke="#ee7482" stroke-width="0.62"/>
<circle cx="396.60" cy="76.88" r="0.9000000000000001" fill="none" stroke="#ee7482" stroke-width="0.62"/>
<circle cx="395.10" cy="71.91" r="0.9000000000000001" fill="none" stroke="#ee7482" stroke-width="0.62"/>
<circle cx="398.10" cy="78.29" r="0.9000000000000001" fill="none" stroke="#ee7482" stroke-width="0.62"/>
<circle cx="396.60" cy="70.61" r="0.9000000000000001" fill="none" stroke="#ee7482" stroke-width="0.62"/>
<circle cx="398.10" cy="69.42" r="0.9000000000000001" fill="none" stroke="#ee7482" stroke-width="0.62"/>
<circle cx="396.60" cy="68.17" r="0.9000000000000001" fill="none" stroke="#ee7482" stroke-width="0.62"/>
<circle cx="396.60" cy="65.81" r="0.9000000000000001" fill="none" stroke="#ee7482" stroke-width="0.62"/>
<line x1="392.1" y1="74.6" x2="401.1" y2="74.6" stroke="#ee7482" stroke-width="1.1" />
<line x1="396.6" y1="73.39999999999999" x2="396.6" y2="75.8" stroke="#ee7482" stroke-width="1.1" />
<circle cx="407.50" cy="70.07" r="0.95" fill="#a8121a"/>
<circle cx="408.50" cy="70.73" r="0.95" fill="#a8121a"/>
<circle cx="406.50" cy="70.98" r="0.95" fill="#a8121a"/>
<circle cx="408.50" cy="69.31" r="0.95" fill="#a8121a"/>
<circle cx="406.50" cy="68.76" r="0.95" fill="#a8121a"/>
<circle cx="407.50" cy="71.90" r="0.95" fill="#a8121a"/>
<circle cx="407.50" cy="67.70" r="0.95" fill="#a8121a"/>
<circle cx="408.50" cy="72.99" r="0.95" fill="#a8121a"/>
<circle cx="408.50" cy="66.87" r="0.95" fill="#a8121a"/>
<circle cx="407.50" cy="73.98" r="0.95" fill="#a8121a"/>
<circle cx="407.50" cy="65.83" r="0.95" fill="#a8121a"/>
<circle cx="408.50" cy="75.09" r="0.95" fill="#a8121a"/>
<circle cx="408.50" cy="64.74" r="0.95" fill="#a8121a"/>
<circle cx="407.50" cy="62.85" r="0.95" fill="#a8121a"/>
<circle cx="407.50" cy="54.30" r="0.95" fill="#a8121a"/>
<line x1="403.0" y1="70.2" x2="412.0" y2="70.2" stroke="#a8121a" stroke-width="1.1" />
<line x1="407.5" y1="68.8" x2="407.5" y2="71.60000000000001" stroke="#a8121a" stroke-width="1.1" />
<circle cx="425.10" cy="75.90" r="0.9000000000000001" fill="none" stroke="#ee7482" stroke-width="0.62"/>
<circle cx="425.10" cy="80.90" r="0.9000000000000001" fill="none" stroke="#ee7482" stroke-width="0.62"/>
<circle cx="425.10" cy="68.00" r="0.9000000000000001" fill="none" stroke="#ee7482" stroke-width="0.62"/>
<line x1="420.6" y1="75.9" x2="429.6" y2="75.9" stroke="#ee7482" stroke-width="1.1" />
<line x1="425.1" y1="74.7" x2="425.1" y2="77.10000000000001" stroke="#ee7482" stroke-width="1.1" />
<circle cx="435.50" cy="69.72" r="0.95" fill="#a8121a"/>
<circle cx="436.50" cy="70.49" r="0.95" fill="#a8121a"/>
<circle cx="436.50" cy="68.67" r="0.95" fill="#a8121a"/>
<circle cx="435.50" cy="71.57" r="0.95" fill="#a8121a"/>
<circle cx="435.50" cy="67.99" r="0.95" fill="#a8121a"/>
<circle cx="436.50" cy="66.98" r="0.95" fill="#a8121a"/>
<circle cx="435.50" cy="66.09" r="0.95" fill="#a8121a"/>
<circle cx="435.50" cy="64.28" r="0.95" fill="#a8121a"/>
<line x1="431.0" y1="69.8" x2="440.0" y2="69.8" stroke="#a8121a" stroke-width="1.1" />
<line x1="435.5" y1="68.39999999999999" x2="435.5" y2="71.2" stroke="#a8121a" stroke-width="1.1" />
<circle cx="230.5" cy="99.2" r="0.8" fill="#ee7482"/>
<circle cx="230.5" cy="111.7" r="0.8" fill="#a8121a"/>
<text x="239.6" y="101.9" font-size="8.2" text-anchor="start" font-weight="normal" font-style="normal" fill="#1e1e1e" stroke="#1e1e1e" stroke-width="0.2296" >SED</text>
<text x="239.6" y="114.0" font-size="8.2" text-anchor="start" font-weight="normal" font-style="normal" fill="#1e1e1e" stroke="#1e1e1e" stroke-width="0.2296" >EXE</text>
<circle cx="261.10" cy="97.40" r="1.47" fill="none" stroke="#333" stroke-width="0.85"/>
<line x1="261.09999999999997" y1="98.87499999999999" x2="261.09999999999997" y2="103.1" stroke="#333" stroke-width="0.85" />
<line x1="258.2" y1="100.77624999999999" x2="263.99999999999994" y2="100.77624999999999" stroke="#333" stroke-width="0.85" />
<circle cx="261.10" cy="109.50" r="1.47" fill="none" stroke="#333" stroke-width="0.85"/>
<line x1="261.09999999999997" y1="110.97499999999998" x2="261.09999999999997" y2="115.19999999999999" stroke="#333" stroke-width="0.85" />
<line x1="258.2" y1="112.87624999999998" x2="263.99999999999994" y2="112.87624999999998" stroke="#333" stroke-width="0.85" />
<text x="273.1" y="16.5" font-size="7.3" text-anchor="start" font-weight="normal" font-style="normal" fill="#2e2e2e" stroke="#2e2e2e" stroke-width="0.2044" ><tspan font-style="italic">P</tspan>=0.022</text>
<path d="M280.6 24.200000000000003 V20.6 H293.3 V24.200000000000003" fill="none" stroke="#262626" stroke-width="1" />
<text x="301.90000000000003" y="25.4" font-size="7.3" text-anchor="start" font-weight="normal" font-style="normal" fill="#2e2e2e" stroke="#2e2e2e" stroke-width="0.2044" ><tspan font-style="italic">P</tspan>=0.004</text>
<path d="M308.7 33.1 V29.5 H322.0 V33.1" fill="none" stroke="#262626" stroke-width="1" />
<text x="330.40000000000003" y="16.5" font-size="7.3" text-anchor="start" font-weight="normal" font-style="normal" fill="#2e2e2e" stroke="#2e2e2e" stroke-width="0.2044" ><tspan font-style="italic">P</tspan>=0.002</text>
<path d="M337.8 24.200000000000003 V20.6 H351.1 V24.200000000000003" fill="none" stroke="#262626" stroke-width="1" />
<text x="359.70000000000005" y="25.4" font-size="7.3" text-anchor="start" font-weight="normal" font-style="normal" fill="#2e2e2e" stroke="#2e2e2e" stroke-width="0.2044" ><tspan font-style="italic">P</tspan>=0.002</text>
<path d="M367.0 33.1 V29.5 H380.2 V33.1" fill="none" stroke="#262626" stroke-width="1" />
<text x="390.8" y="16.5" font-size="7.3" text-anchor="start" font-weight="normal" font-style="normal" fill="#2e2e2e" stroke="#2e2e2e" stroke-width="0.2044" ><tspan font-style="italic">P</tspan>=0.014</text>
<path d="M398.3 24.200000000000003 V20.6 H411.1 V24.200000000000003" fill="none" stroke="#262626" stroke-width="1" />
<text x="415.90000000000003" y="25.4" font-size="7.3" text-anchor="start" font-weight="normal" font-style="normal" fill="#2e2e2e" stroke="#2e2e2e" stroke-width="0.2044" ><tspan font-style="italic">P</tspan>=0.009</text>
<path d="M423.5 33.1 V29.5 H436.3 V33.1" fill="none" stroke="#262626" stroke-width="1" />
<text x="184" y="169.5" font-size="15.5" text-anchor="start" font-weight="bold" font-style="normal" fill="#000" stroke="#000" stroke-width="0.35" >c</text>
<line x1="218.3" y1="178.6" x2="218.3" y2="284.8" stroke="#262626" stroke-width="1.1" />
<line x1="217.8" y1="284.3" x2="444.8" y2="284.3" stroke="#262626" stroke-width="1.1" />
<line x1="214.8" y1="284.3" x2="218.3" y2="284.3" stroke="#262626" stroke-width="1" />
<text x="213.8" y="287.90000000000003" font-size="10" text-anchor="end" font-weight="normal" font-style="normal" fill="#1e1e1e" stroke="#1e1e1e" stroke-width="0.28" >0</text>
<line x1="214.8" y1="263.26" x2="218.3" y2="263.26" stroke="#262626" stroke-width="1" />
<text x="213.8" y="266.86" font-size="10" text-anchor="end" font-weight="normal" font-style="normal" fill="#1e1e1e" stroke="#1e1e1e" stroke-width="0.28" >10</text>
<line x1="214.8" y1="242.22000000000003" x2="218.3" y2="242.22000000000003" stroke="#262626" stroke-width="1" />
<text x="213.8" y="245.82000000000002" font-size="10" text-anchor="end" font-weight="normal" font-style="normal" fill="#1e1e1e" stroke="#1e1e1e" stroke-width="0.28" >20</text>
<line x1="214.8" y1="221.18" x2="218.3" y2="221.18" stroke="#262626" stroke-width="1" />
<text x="213.8" y="224.78" font-size="10" text-anchor="end" font-weight="normal" font-style="normal" fill="#1e1e1e" stroke="#1e1e1e" stroke-width="0.28" >30</text>
<line x1="214.8" y1="200.14000000000001" x2="218.3" y2="200.14000000000001" stroke="#262626" stroke-width="1" />
<text x="213.8" y="203.74" font-size="10" text-anchor="end" font-weight="normal" font-style="normal" fill="#1e1e1e" stroke="#1e1e1e" stroke-width="0.28" >40</text>
<line x1="214.8" y1="179.10000000000002" x2="218.3" y2="179.10000000000002" stroke="#262626" stroke-width="1" />
<text x="213.8" y="182.70000000000002" font-size="10" text-anchor="end" font-weight="normal" font-style="normal" fill="#1e1e1e" stroke="#1e1e1e" stroke-width="0.28" >50</text>
<line x1="231.1" y1="284.3" x2="231.1" y2="287.3" stroke="#262626" stroke-width="1" />
<text x="231.1" y="297.8" font-size="10" text-anchor="middle" font-weight="normal" font-style="normal" fill="#1e1e1e" stroke="#1e1e1e" stroke-width="0.28" >1</text>
<line x1="259.74" y1="284.3" x2="259.74" y2="287.3" stroke="#262626" stroke-width="1" />
<text x="259.74" y="297.8" font-size="10" text-anchor="middle" font-weight="normal" font-style="normal" fill="#1e1e1e" stroke="#1e1e1e" stroke-width="0.28" >4</text>
<line x1="288.38" y1="284.3" x2="288.38" y2="287.3" stroke="#262626" stroke-width="1" />
<text x="288.38" y="297.8" font-size="10" text-anchor="middle" font-weight="normal" font-style="normal" fill="#1e1e1e" stroke="#1e1e1e" stroke-width="0.28" >9</text>
<line x1="317.02" y1="284.3" x2="317.02" y2="287.3" stroke="#262626" stroke-width="1" />
<text x="317.02" y="297.8" font-size="10" text-anchor="middle" font-weight="normal" font-style="normal" fill="#1e1e1e" stroke="#1e1e1e" stroke-width="0.28" >14</text>
<line x1="345.65999999999997" y1="284.3" x2="345.65999999999997" y2="287.3" stroke="#262626" stroke-width="1" />
<text x="345.65999999999997" y="297.8" font-size="10" text-anchor="middle" font-weight="normal" font-style="normal" fill="#1e1e1e" stroke="#1e1e1e" stroke-width="0.28" >19</text>
<line x1="374.29999999999995" y1="284.3" x2="374.29999999999995" y2="287.3" stroke="#262626" stroke-width="1" />
<text x="374.29999999999995" y="297.8" font-size="10" text-anchor="middle" font-weight="normal" font-style="normal" fill="#1e1e1e" stroke="#1e1e1e" stroke-width="0.28" >24</text>
<line x1="402.94" y1="284.3" x2="402.94" y2="287.3" stroke="#262626" stroke-width="1" />
<text x="402.94" y="297.8" font-size="10" text-anchor="middle" font-weight="normal" font-style="normal" fill="#1e1e1e" stroke="#1e1e1e" stroke-width="0.28" >29</text>
<line x1="431.58000000000004" y1="284.3" x2="431.58000000000004" y2="287.3" stroke="#262626" stroke-width="1" />
<text x="431.58000000000004" y="297.8" font-size="10" text-anchor="middle" font-weight="normal" font-style="normal" fill="#1e1e1e" stroke="#1e1e1e" stroke-width="0.28" >34</text>
<text x="331.8" y="312.6" font-size="10.75" text-anchor="middle" font-weight="normal" font-style="normal" fill="#1e1e1e" stroke="#1e1e1e" stroke-width="0.301" >Age (mo)</text>
<text transform="translate(198.1 228.3) rotate(-90)" font-size="10.6" text-anchor="middle" fill="#1e1e1e" stroke="#1e1e1e" stroke-width="0.29">Body weight (g)</text>
<circle cx="225.70" cy="238.37" r="0.6499999999999999" fill="none" stroke="#86abde" stroke-width="0.6"/>
<circle cx="228.30" cy="238.37" r="0.6499999999999999" fill="none" stroke="#86abde" stroke-width="0.6"/>
<circle cx="223.10" cy="238.74" r="0.6499999999999999" fill="none" stroke="#86abde" stroke-width="0.6"/>
<circle cx="221.80" cy="237.65" r="0.6499999999999999" fill="none" stroke="#86abde" stroke-width="0.6"/>
<circle cx="227.00" cy="239.38" r="0.6499999999999999" fill="none" stroke="#86abde" stroke-width="0.6"/>
<circle cx="227.00" cy="237.58" r="0.6499999999999999" fill="none" stroke="#86abde" stroke-width="0.6"/>
<circle cx="224.40" cy="239.60" r="0.6499999999999999" fill="none" stroke="#86abde" stroke-width="0.6"/>
<circle cx="229.60" cy="239.63" r="0.6499999999999999" fill="none" stroke="#86abde" stroke-width="0.6"/>
<circle cx="224.40" cy="237.18" r="0.6499999999999999" fill="none" stroke="#86abde" stroke-width="0.6"/>
<circle cx="221.80" cy="240.17" r="0.6499999999999999" fill="none" stroke="#86abde" stroke-width="0.6"/>
<circle cx="225.70" cy="240.65" r="0.6499999999999999" fill="none" stroke="#86abde" stroke-width="0.6"/>
<circle cx="225.70" cy="236.27" r="0.6499999999999999" fill="none" stroke="#86abde" stroke-width="0.6"/>
<circle cx="228.30" cy="236.04" r="0.6499999999999999" fill="none" stroke="#86abde" stroke-width="0.6"/>
<circle cx="228.30" cy="241.02" r="0.6499999999999999" fill="none" stroke="#86abde" stroke-width="0.6"/>
<circle cx="224.40" cy="241.46" r="0.6499999999999999" fill="none" stroke="#86abde" stroke-width="0.6"/>
<circle cx="224.40" cy="235.41" r="0.6499999999999999" fill="none" stroke="#86abde" stroke-width="0.6"/>
<circle cx="227.00" cy="242.15" r="0.6499999999999999" fill="none" stroke="#86abde" stroke-width="0.6"/>
<circle cx="225.70" cy="234.11" r="0.6499999999999999" fill="none" stroke="#86abde" stroke-width="0.6"/>
<circle cx="225.70" cy="243.14" r="0.6499999999999999" fill="none" stroke="#86abde" stroke-width="0.6"/>
<circle cx="228.30" cy="243.82" r="0.6499999999999999" fill="none" stroke="#86abde" stroke-width="0.6"/>
<line x1="221.2" y1="238.5" x2="230.2" y2="238.5" stroke="#86abde" stroke-width="1.1" />
<line x1="225.7" y1="237.3" x2="225.7" y2="239.7" stroke="#86abde" stroke-width="1.1" />
<circle cx="236.60" cy="238.24" r="0.85" fill="#1e4a8a"/>
<circle cx="238.60" cy="238.23" r="0.85" fill="#1e4a8a"/>
<circle cx="234.60" cy="238.03" r="0.85" fill="#1e4a8a"/>
<circle cx="237.60" cy="239.03" r="0.85" fill="#1e4a8a"/>
<circle cx="235.60" cy="239.17" r="0.85" fill="#1e4a8a"/>
<circle cx="239.60" cy="239.32" r="0.85" fill="#1e4a8a"/>
<circle cx="237.60" cy="237.54" r="0.85" fill="#1e4a8a"/>
<circle cx="233.60" cy="239.56" r="0.85" fill="#1e4a8a"/>
<circle cx="233.65" cy="239.72" r="0.85" fill="#1e4a8a"/>
<circle cx="236.60" cy="239.90" r="0.85" fill="#1e4a8a"/>
<circle cx="235.60" cy="236.99" r="0.85" fill="#1e4a8a"/>
<circle cx="238.60" cy="236.80" r="0.85" fill="#1e4a8a"/>
<circle cx="237.60" cy="240.68" r="0.85" fill="#1e4a8a"/>
<circle cx="235.60" cy="240.74" r="0.85" fill="#1e4a8a"/>
<circle cx="236.60" cy="236.22" r="0.85" fill="#1e4a8a"/>
<circle cx="239.60" cy="241.06" r="0.85" fill="#1e4a8a"/>
<circle cx="236.60" cy="241.69" r="0.85" fill="#1e4a8a"/>
<circle cx="237.60" cy="242.50" r="0.85" fill="#1e4a8a"/>
<circle cx="236.60" cy="243.09" r="0.85" fill="#1e4a8a"/>
<circle cx="237.60" cy="243.68" r="0.85" fill="#1e4a8a"/>
<line x1="232.1" y1="238.5" x2="241.1" y2="238.5" stroke="#1e4a8a" stroke-width="1.1" />
<line x1="236.6" y1="237.1" x2="236.6" y2="239.9" stroke="#1e4a8a" stroke-width="1.1" />
<circle cx="254.40" cy="229.71" r="0.6499999999999999" fill="none" stroke="#86abde" stroke-width="0.6"/>
<circle cx="257.00" cy="229.91" r="0.6499999999999999" fill="none" stroke="#86abde" stroke-width="0.6"/>
<circle cx="251.80" cy="229.68" r="0.6499999999999999" fill="none" stroke="#86abde" stroke-width="0.6"/>
<circle cx="254.83" cy="230.32" r="0.6499999999999999" fill="none" stroke="#86abde" stroke-width="0.6"/>
<circle cx="258.30" cy="229.10" r="0.6499999999999999" fill="none" stroke="#86abde" stroke-width="0.6"/>
<circle cx="255.70" cy="228.92" r="0.6499999999999999" fill="none" stroke="#86abde" stroke-width="0.6"/>
<circle cx="253.10" cy="230.72" r="0.6499999999999999" fill="none" stroke="#86abde" stroke-width="0.6"/>
<circle cx="258.30" cy="230.82" r="0.6499999999999999" fill="none" stroke="#86abde" stroke-width="0.6"/>
<circle cx="250.50" cy="230.93" r="0.6499999999999999" fill="none" stroke="#86abde" stroke-width="0.6"/>
<circle cx="253.10" cy="228.45" r="0.6499999999999999" fill="none" stroke="#86abde" stroke-width="0.6"/>
<circle cx="250.50" cy="228.33" r="0.6499999999999999" fill="none" stroke="#86abde" stroke-width="0.6"/>
<circle cx="251.79" cy="231.47" r="0.6499999999999999" fill="none" stroke="#86abde" stroke-width="0.6"/>
<circle cx="257.00" cy="228.01" r="0.6499999999999999" fill="none" stroke="#86abde" stroke-width="0.6"/>
<circle cx="255.70" cy="231.62" r="0.6499999999999999" fill="none" stroke="#86abde" stroke-width="0.6"/>
<circle cx="254.19" cy="227.84" r="0.6499999999999999" fill="none" stroke="#86abde" stroke-width="0.6"/>
<circle cx="258.05" cy="231.86" r="0.6499999999999999" fill="none" stroke="#86abde" stroke-width="0.6"/>
<circle cx="253.10" cy="232.23" r="0.6499999999999999" fill="none" stroke="#86abde" stroke-width="0.6"/>
<circle cx="250.50" cy="232.52" r="0.6499999999999999" fill="none" stroke="#86abde" stroke-width="0.6"/>
<circle cx="255.70" cy="226.94" r="0.6499999999999999" fill="none" stroke="#86abde" stroke-width="0.6"/>
<circle cx="253.10" cy="226.76" r="0.6499999999999999" fill="none" stroke="#86abde" stroke-width="0.6"/>
<circle cx="257.00" cy="232.97" r="0.6499999999999999" fill="none" stroke="#86abde" stroke-width="0.6"/>
<circle cx="258.30" cy="226.48" r="0.6499999999999999" fill="none" stroke="#86abde" stroke-width="0.6"/>
<circle cx="254.40" cy="233.42" r="0.6499999999999999" fill="none" stroke="#86abde" stroke-width="0.6"/>
<circle cx="251.80" cy="233.81" r="0.6499999999999999" fill="none" stroke="#86abde" stroke-width="0.6"/>
<circle cx="254.40" cy="225.63" r="0.6499999999999999" fill="none" stroke="#86abde" stroke-width="0.6"/>
<circle cx="257.00" cy="225.12" r="0.6499999999999999" fill="none" stroke="#86abde" stroke-width="0.6"/>
<circle cx="255.70" cy="234.50" r="0.6499999999999999" fill="none" stroke="#86abde" stroke-width="0.6"/>
<circle cx="253.10" cy="234.67" r="0.6499999999999999" fill="none" stroke="#86abde" stroke-width="0.6"/>
<circle cx="253.10" cy="224.87" r="0.6499999999999999" fill="none" stroke="#86abde" stroke-width="0.6"/>
<circle cx="257.00" cy="235.27" r="0.6499999999999999" fill="none" stroke="#86abde" stroke-width="0.6"/>
<circle cx="254.40" cy="224.04" r="0.6499999999999999" fill="none" stroke="#86abde" stroke-width="0.6"/>
<circle cx="254.40" cy="235.59" r="0.6499999999999999" fill="none" stroke="#86abde" stroke-width="0.6"/>
<circle cx="251.80" cy="236.26" r="0.6499999999999999" fill="none" stroke="#86abde" stroke-width="0.6"/>
<circle cx="255.70" cy="223.15" r="0.6499999999999999" fill="none" stroke="#86abde" stroke-width="0.6"/>
<circle cx="255.70" cy="236.69" r="0.6499999999999999" fill="none" stroke="#86abde" stroke-width="0.6"/>
<circle cx="254.40" cy="237.56" r="0.6499999999999999" fill="none" stroke="#86abde" stroke-width="0.6"/>
<circle cx="255.70" cy="238.32" r="0.6499999999999999" fill="none" stroke="#86abde" stroke-width="0.6"/>
<circle cx="254.40" cy="240.06" r="0.6499999999999999" fill="none" stroke="#86abde" stroke-width="0.6"/>
<line x1="249.9" y1="229.8" x2="258.9" y2="229.8" stroke="#86abde" stroke-width="1.1" />
<line x1="254.4" y1="228.60000000000002" x2="254.4" y2="231.0" stroke="#86abde" stroke-width="1.1" />
<circle cx="265.50" cy="232.95" r="0.85" fill="#1e4a8a"/>
<circle cx="267.50" cy="232.77" r="0.85" fill="#1e4a8a"/>
<circle cx="263.50" cy="232.50" r="0.85" fill="#1e4a8a"/>
<circle cx="268.50" cy="233.52" r="0.85" fill="#1e4a8a"/>
<circle cx="269.50" cy="232.45" r="0.85" fill="#1e4a8a"/>
<circle cx="266.50" cy="233.58" r="0.85" fill="#1e4a8a"/>
<circle cx="264.50" cy="233.70" r="0.85" fill="#1e4a8a"/>
<circle cx="261.50" cy="232.25" r="0.85" fill="#1e4a8a"/>
<circle cx="266.50" cy="232.14" r="0.85" fill="#1e4a8a"/>
<circle cx="262.50" cy="233.89" r="0.85" fill="#1e4a8a"/>
<circle cx="264.50" cy="231.93" r="0.85" fill="#1e4a8a"/>
<circle cx="268.50" cy="231.73" r="0.85" fill="#1e4a8a"/>
<circle cx="265.50" cy="234.59" r="0.85" fill="#1e4a8a"/>
<circle cx="265.50" cy="231.25" r="0.85" fill="#1e4a8a"/>
<circle cx="267.50" cy="231.16" r="0.85" fill="#1e4a8a"/>
<circle cx="267.50" cy="234.87" r="0.85" fill="#1e4a8a"/>
<circle cx="263.50" cy="235.01" r="0.85" fill="#1e4a8a"/>
<circle cx="269.50" cy="235.05" r="0.85" fill="#1e4a8a"/>
<circle cx="263.50" cy="230.76" r="0.85" fill="#1e4a8a"/>
<circle cx="261.50" cy="235.31" r="0.85" fill="#1e4a8a"/>
<circle cx="266.50" cy="235.63" r="0.85" fill="#1e4a8a"/>
<circle cx="266.50" cy="230.32" r="0.85" fill="#1e4a8a"/>
<circle cx="264.50" cy="236.03" r="0.85" fill="#1e4a8a"/>
<circle cx="264.50" cy="229.89" r="0.85" fill="#1e4a8a"/>
<circle cx="268.50" cy="236.17" r="0.85" fill="#1e4a8a"/>
<circle cx="268.50" cy="229.75" r="0.85" fill="#1e4a8a"/>
<circle cx="265.50" cy="236.68" r="0.85" fill="#1e4a8a"/>
<circle cx="265.50" cy="229.11" r="0.85" fill="#1e4a8a"/>
<circle cx="267.50" cy="236.92" r="0.85" fill="#1e4a8a"/>
<circle cx="267.50" cy="228.56" r="0.85" fill="#1e4a8a"/>
<circle cx="266.50" cy="237.71" r="0.85" fill="#1e4a8a"/>
<circle cx="264.50" cy="228.16" r="0.85" fill="#1e4a8a"/>
<circle cx="264.50" cy="238.11" r="0.85" fill="#1e4a8a"/>
<circle cx="267.50" cy="238.29" r="0.85" fill="#1e4a8a"/>
<circle cx="262.50" cy="238.58" r="0.85" fill="#1e4a8a"/>
<circle cx="265.50" cy="226.82" r="0.85" fill="#1e4a8a"/>
<circle cx="265.50" cy="239.54" r="0.85" fill="#1e4a8a"/>
<circle cx="267.50" cy="239.76" r="0.85" fill="#1e4a8a"/>
<circle cx="266.50" cy="240.53" r="0.85" fill="#1e4a8a"/>
<circle cx="265.50" cy="241.41" r="0.85" fill="#1e4a8a"/>
<line x1="261.0" y1="233" x2="270.0" y2="233" stroke="#1e4a8a" stroke-width="1.1" />
<line x1="265.5" y1="231.6" x2="265.5" y2="234.4" stroke="#1e4a8a" stroke-width="1.1" />
<circle cx="283.20" cy="225.03" r="0.6499999999999999" fill="none" stroke="#86abde" stroke-width="0.6"/>
<circle cx="285.80" cy="224.35" r="0.6499999999999999" fill="none" stroke="#86abde" stroke-width="0.6"/>
<circle cx="280.60" cy="225.35" r="0.6499999999999999" fill="none" stroke="#86abde" stroke-width="0.6"/>
<circle cx="281.90" cy="223.95" r="0.6499999999999999" fill="none" stroke="#86abde" stroke-width="0.6"/>
<circle cx="284.50" cy="225.91" r="0.6499999999999999" fill="none" stroke="#86abde" stroke-width="0.6"/>
<circle cx="284.50" cy="223.25" r="0.6499999999999999" fill="none" stroke="#86abde" stroke-width="0.6"/>
<circle cx="280.60" cy="222.96" r="0.6499999999999999" fill="none" stroke="#86abde" stroke-width="0.6"/>
<circle cx="283.20" cy="226.73" r="0.6499999999999999" fill="none" stroke="#86abde" stroke-width="0.6"/>
<circle cx="283.20" cy="222.11" r="0.6499999999999999" fill="none" stroke="#86abde" stroke-width="0.6"/>
<circle cx="285.80" cy="227.44" r="0.6499999999999999" fill="none" stroke="#86abde" stroke-width="0.6"/>
<circle cx="285.80" cy="221.52" r="0.6499999999999999" fill="none" stroke="#86abde" stroke-width="0.6"/>
<circle cx="283.20" cy="228.58" r="0.6499999999999999" fill="none" stroke="#86abde" stroke-width="0.6"/>
<circle cx="283.20" cy="220.55" r="0.6499999999999999" fill="none" stroke="#86abde" stroke-width="0.6"/>
<circle cx="284.50" cy="229.88" r="0.6499999999999999" fill="none" stroke="#86abde" stroke-width="0.6"/>
<circle cx="284.50" cy="219.11" r="0.6499999999999999" fill="none" stroke="#86abde" stroke-width="0.6"/>
<line x1="278.7" y1="224.7" x2="287.7" y2="224.7" stroke="#86abde" stroke-width="1.1" />
<line x1="283.2" y1="223.5" x2="283.2" y2="225.89999999999998" stroke="#86abde" stroke-width="1.1" />
<circle cx="293.60" cy="227.77" r="0.95" fill="#1e4a8a"/>
<circle cx="294.50" cy="228.31" r="0.95" fill="#1e4a8a"/>
<circle cx="293.60" cy="226.85" r="0.95" fill="#1e4a8a"/>
<circle cx="294.50" cy="226.74" r="0.95" fill="#1e4a8a"/>
<circle cx="292.70" cy="228.61" r="0.95" fill="#1e4a8a"/>
<circle cx="293.60" cy="225.69" r="0.95" fill="#1e4a8a"/>
<circle cx="293.60" cy="229.85" r="0.95" fill="#1e4a8a"/>
<circle cx="294.50" cy="225.00" r="0.95" fill="#1e4a8a"/>
<circle cx="293.60" cy="224.48" r="0.95" fill="#1e4a8a"/>
<circle cx="293.60" cy="230.82" r="0.95" fill="#1e4a8a"/>
<circle cx="293.60" cy="223.45" r="0.95" fill="#1e4a8a"/>
<circle cx="293.60" cy="232.02" r="0.95" fill="#1e4a8a"/>
<circle cx="293.60" cy="222.26" r="0.95" fill="#1e4a8a"/>
<circle cx="293.60" cy="220.64" r="0.95" fill="#1e4a8a"/>
<line x1="289.1" y1="227.6" x2="298.1" y2="227.6" stroke="#1e4a8a" stroke-width="1.1" />
<line x1="293.6" y1="222.1" x2="293.6" y2="233.1" stroke="#1e4a8a" stroke-width="1.1" />
<line x1="289.1" y1="227.6" x2="298.1" y2="227.6" stroke="#1e4a8a" stroke-width="1.6" />
<line x1="291.3" y1="220.2" x2="295.90000000000003" y2="220.2" stroke="#1e4a8a" stroke-width="1.0" />
<circle cx="311.80" cy="217.90" r="0.6499999999999999" fill="none" stroke="#86abde" stroke-width="0.6"/>
<circle cx="315.00" cy="218.48" r="0.6499999999999999" fill="none" stroke="#86abde" stroke-width="0.6"/>
<circle cx="308.60" cy="217.06" r="0.6499999999999999" fill="none" stroke="#86abde" stroke-width="0.6"/>
<circle cx="310.20" cy="219.11" r="0.6499999999999999" fill="none" stroke="#86abde" stroke-width="0.6"/>
<circle cx="310.63" cy="219.63" r="0.6499999999999999" fill="none" stroke="#86abde" stroke-width="0.6"/>
<circle cx="313.40" cy="216.36" r="0.6499999999999999" fill="none" stroke="#86abde" stroke-width="0.6"/>
<circle cx="313.40" cy="220.53" r="0.6499999999999999" fill="none" stroke="#86abde" stroke-width="0.6"/>
<circle cx="310.20" cy="215.30" r="0.6499999999999999" fill="none" stroke="#86abde" stroke-width="0.6"/>
<circle cx="308.60" cy="221.19" r="0.6499999999999999" fill="none" stroke="#86abde" stroke-width="0.6"/>
<circle cx="315.00" cy="214.69" r="0.6499999999999999" fill="none" stroke="#86abde" stroke-width="0.6"/>
<circle cx="311.80" cy="222.07" r="0.6499999999999999" fill="none" stroke="#86abde" stroke-width="0.6"/>
<circle cx="315.00" cy="222.80" r="0.6499999999999999" fill="none" stroke="#86abde" stroke-width="0.6"/>
<circle cx="311.80" cy="213.16" r="0.6499999999999999" fill="none" stroke="#86abde" stroke-width="0.6"/>
<circle cx="310.20" cy="223.93" r="0.6499999999999999" fill="none" stroke="#86abde" stroke-width="0.6"/>
<circle cx="311.80" cy="225.80" r="0.6499999999999999" fill="none" stroke="#86abde" stroke-width="0.6"/>
<line x1="307.3" y1="218" x2="316.3" y2="218" stroke="#86abde" stroke-width="1.1" />
<line x1="311.8" y1="216.8" x2="311.8" y2="219.2" stroke="#86abde" stroke-width="1.1" />
<circle cx="322.40" cy="223.38" r="0.9" fill="#1e4a8a"/>
<circle cx="325.40" cy="223.44" r="0.9" fill="#1e4a8a"/>
<circle cx="319.40" cy="222.89" r="0.9" fill="#1e4a8a"/>
<circle cx="324.41" cy="222.45" r="0.9" fill="#1e4a8a"/>
<circle cx="326.40" cy="222.15" r="0.9" fill="#1e4a8a"/>
<circle cx="322.35" cy="224.30" r="0.9" fill="#1e4a8a"/>
<circle cx="321.41" cy="224.51" r="0.9" fill="#1e4a8a"/>
<circle cx="320.90" cy="221.71" r="0.9" fill="#1e4a8a"/>
<circle cx="319.40" cy="224.97" r="0.9" fill="#1e4a8a"/>
<circle cx="322.22" cy="220.73" r="0.9" fill="#1e4a8a"/>
<circle cx="323.90" cy="225.73" r="0.9" fill="#1e4a8a"/>
<circle cx="325.40" cy="220.49" r="0.9" fill="#1e4a8a"/>
<circle cx="319.40" cy="220.03" r="0.9" fill="#1e4a8a"/>
<circle cx="320.90" cy="226.80" r="0.9" fill="#1e4a8a"/>
<circle cx="323.94" cy="219.36" r="0.9" fill="#1e4a8a"/>
<circle cx="323.90" cy="227.64" r="0.9" fill="#1e4a8a"/>
<circle cx="320.90" cy="218.66" r="0.9" fill="#1e4a8a"/>
<circle cx="325.40" cy="217.80" r="0.9" fill="#1e4a8a"/>
<circle cx="322.40" cy="216.96" r="0.9" fill="#1e4a8a"/>
<circle cx="323.90" cy="215.06" r="0.9" fill="#1e4a8a"/>
<line x1="317.9" y1="223.2" x2="326.9" y2="223.2" stroke="#1e4a8a" stroke-width="1.1" />
<line x1="322.4" y1="221.79999999999998" x2="322.4" y2="224.6" stroke="#1e4a8a" stroke-width="1.1" />
<circle cx="339.90" cy="223.55" r="0.6499999999999999" fill="none" stroke="#86abde" stroke-width="0.6"/>
<circle cx="342.30" cy="223.99" r="0.6499999999999999" fill="none" stroke="#86abde" stroke-width="0.6"/>
<circle cx="337.50" cy="222.93" r="0.6499999999999999" fill="none" stroke="#86abde" stroke-width="0.6"/>
<circle cx="338.70" cy="224.49" r="0.6499999999999999" fill="none" stroke="#86abde" stroke-width="0.6"/>
<circle cx="339.69" cy="222.67" r="0.6499999999999999" fill="none" stroke="#86abde" stroke-width="0.6"/>
<circle cx="341.56" cy="224.83" r="0.6499999999999999" fill="none" stroke="#86abde" stroke-width="0.6"/>
<circle cx="342.30" cy="222.17" r="0.6499999999999999" fill="none" stroke="#86abde" stroke-width="0.6"/>
<circle cx="342.33" cy="221.63" r="0.6499999999999999" fill="none" stroke="#86abde" stroke-width="0.6"/>
<circle cx="339.90" cy="225.89" r="0.6499999999999999" fill="none" stroke="#86abde" stroke-width="0.6"/>
<circle cx="342.30" cy="226.14" r="0.6499999999999999" fill="none" stroke="#86abde" stroke-width="0.6"/>
<circle cx="339.90" cy="220.83" r="0.6499999999999999" fill="none" stroke="#86abde" stroke-width="0.6"/>
<circle cx="337.50" cy="220.13" r="0.6499999999999999" fill="none" stroke="#86abde" stroke-width="0.6"/>
<circle cx="341.10" cy="227.38" r="0.6499999999999999" fill="none" stroke="#86abde" stroke-width="0.6"/>
<circle cx="341.10" cy="219.50" r="0.6499999999999999" fill="none" stroke="#86abde" stroke-width="0.6"/>
<circle cx="338.70" cy="219.19" r="0.6499999999999999" fill="none" stroke="#86abde" stroke-width="0.6"/>
<circle cx="339.90" cy="228.30" r="0.6499999999999999" fill="none" stroke="#86abde" stroke-width="0.6"/>
<circle cx="342.30" cy="218.36" r="0.6499999999999999" fill="none" stroke="#86abde" stroke-width="0.6"/>
<circle cx="342.30" cy="229.13" r="0.6499999999999999" fill="none" stroke="#86abde" stroke-width="0.6"/>
<circle cx="339.90" cy="217.90" r="0.6499999999999999" fill="none" stroke="#86abde" stroke-width="0.6"/>
<circle cx="341.10" cy="216.82" r="0.6499999999999999" fill="none" stroke="#86abde" stroke-width="0.6"/>
<circle cx="339.90" cy="215.90" r="0.6499999999999999" fill="none" stroke="#86abde" stroke-width="0.6"/>
<circle cx="341.10" cy="214.90" r="0.6499999999999999" fill="none" stroke="#86abde" stroke-width="0.6"/>
<circle cx="338.70" cy="214.13" r="0.6499999999999999" fill="none" stroke="#86abde" stroke-width="0.6"/>
<circle cx="339.90" cy="212.76" r="0.6499999999999999" fill="none" stroke="#86abde" stroke-width="0.6"/>
<circle cx="339.90" cy="210.87" r="0.6499999999999999" fill="none" stroke="#86abde" stroke-width="0.6"/>
<line x1="335.4" y1="223.7" x2="344.4" y2="223.7" stroke="#86abde" stroke-width="1.1" />
<line x1="339.9" y1="222.5" x2="339.9" y2="224.89999999999998" stroke="#86abde" stroke-width="1.1" />
<circle cx="350.90" cy="223.56" r="0.9" fill="#1e4a8a"/>
<circle cx="353.90" cy="223.91" r="0.9" fill="#1e4a8a"/>
<circle cx="347.90" cy="223.49" r="0.9" fill="#1e4a8a"/>
<circle cx="354.48" cy="223.37" r="0.9" fill="#1e4a8a"/>
<circle cx="352.69" cy="224.58" r="0.9" fill="#1e4a8a"/>
<circle cx="354.27" cy="222.60" r="0.9" fill="#1e4a8a"/>
<circle cx="349.13" cy="222.50" r="0.9" fill="#1e4a8a"/>
<circle cx="349.40" cy="224.95" r="0.9" fill="#1e4a8a"/>
<circle cx="352.40" cy="222.21" r="0.9" fill="#1e4a8a"/>
<circle cx="349.83" cy="225.28" r="0.9" fill="#1e4a8a"/>
<circle cx="350.00" cy="225.63" r="0.9" fill="#1e4a8a"/>
<circle cx="355.09" cy="221.57" r="0.9" fill="#1e4a8a"/>
<circle cx="351.65" cy="221.32" r="0.9" fill="#1e4a8a"/>
<circle cx="353.90" cy="226.22" r="0.9" fill="#1e4a8a"/>
<circle cx="347.90" cy="226.72" r="0.9" fill="#1e4a8a"/>
<circle cx="349.40" cy="220.47" r="0.9" fill="#1e4a8a"/>
<circle cx="349.73" cy="220.45" r="0.9" fill="#1e4a8a"/>
<circle cx="350.90" cy="227.59" r="0.9" fill="#1e4a8a"/>
<circle cx="353.90" cy="219.70" r="0.9" fill="#1e4a8a"/>
<circle cx="350.30" cy="227.72" r="0.9" fill="#1e4a8a"/>
<circle cx="350.90" cy="218.93" r="0.9" fill="#1e4a8a"/>
<circle cx="347.90" cy="218.60" r="0.9" fill="#1e4a8a"/>
<circle cx="352.40" cy="228.89" r="0.9" fill="#1e4a8a"/>
<circle cx="352.40" cy="217.73" r="0.9" fill="#1e4a8a"/>
<circle cx="349.40" cy="229.84" r="0.9" fill="#1e4a8a"/>
<circle cx="349.01" cy="217.45" r="0.9" fill="#1e4a8a"/>
<circle cx="353.90" cy="230.70" r="0.9" fill="#1e4a8a"/>
<circle cx="350.90" cy="216.18" r="0.9" fill="#1e4a8a"/>
<circle cx="353.90" cy="215.19" r="0.9" fill="#1e4a8a"/>
<circle cx="350.90" cy="213.81" r="0.9" fill="#1e4a8a"/>
<line x1="346.4" y1="223.7" x2="355.4" y2="223.7" stroke="#1e4a8a" stroke-width="1.1" />
<line x1="350.9" y1="222.29999999999998" x2="350.9" y2="225.1" stroke="#1e4a8a" stroke-width="1.1" />
<circle cx="368.90" cy="223.20" r="0.6499999999999999" fill="none" stroke="#86abde" stroke-width="0.6"/>
<circle cx="373.30" cy="223.11" r="0.6499999999999999" fill="none" stroke="#86abde" stroke-width="0.6"/>
<circle cx="371.10" cy="220.98" r="0.6499999999999999" fill="none" stroke="#86abde" stroke-width="0.6"/>
<circle cx="371.10" cy="225.43" r="0.6499999999999999" fill="none" stroke="#86abde" stroke-width="0.6"/>
<circle cx="366.70" cy="219.90" r="0.6499999999999999" fill="none" stroke="#86abde" stroke-width="0.6"/>
<circle cx="366.70" cy="226.50" r="0.6499999999999999" fill="none" stroke="#86abde" stroke-width="0.6"/>
<circle cx="373.30" cy="219.42" r="0.6499999999999999" fill="none" stroke="#86abde" stroke-width="0.6"/>
<circle cx="373.30" cy="227.29" r="0.6499999999999999" fill="none" stroke="#86abde" stroke-width="0.6"/>
<circle cx="368.90" cy="229.55" r="0.6499999999999999" fill="none" stroke="#86abde" stroke-width="0.6"/>
<circle cx="368.90" cy="216.78" r="0.6499999999999999" fill="none" stroke="#86abde" stroke-width="0.6"/>
<circle cx="371.10" cy="215.10" r="0.6499999999999999" fill="none" stroke="#86abde" stroke-width="0.6"/>
<circle cx="371.10" cy="232.13" r="0.6499999999999999" fill="none" stroke="#86abde" stroke-width="0.6"/>
<circle cx="368.90" cy="212.40" r="0.6499999999999999" fill="none" stroke="#86abde" stroke-width="0.6"/>
<circle cx="368.90" cy="234.19" r="0.6499999999999999" fill="none" stroke="#86abde" stroke-width="0.6"/>
<circle cx="371.10" cy="210.24" r="0.6499999999999999" fill="none" stroke="#86abde" stroke-width="0.6"/>
<circle cx="371.10" cy="236.25" r="0.6499999999999999" fill="none" stroke="#86abde" stroke-width="0.6"/>
<line x1="364.4" y1="223.2" x2="373.4" y2="223.2" stroke="#86abde" stroke-width="1.1" />
<line x1="368.9" y1="222.0" x2="368.9" y2="224.39999999999998" stroke="#86abde" stroke-width="1.1" />
<circle cx="379.50" cy="222.93" r="0.9" fill="#1e4a8a"/>
<circle cx="382.50" cy="223.68" r="0.9" fill="#1e4a8a"/>
<circle cx="376.50" cy="222.00" r="0.9" fill="#1e4a8a"/>
<circle cx="378.00" cy="224.55" r="0.9" fill="#1e4a8a"/>
<circle cx="379.50" cy="220.76" r="0.9" fill="#1e4a8a"/>
<circle cx="379.50" cy="226.15" r="0.9" fill="#1e4a8a"/>
<circle cx="382.50" cy="219.80" r="0.9" fill="#1e4a8a"/>
<circle cx="382.50" cy="226.82" r="0.9" fill="#1e4a8a"/>
<circle cx="379.50" cy="218.16" r="0.9" fill="#1e4a8a"/>
<circle cx="379.50" cy="228.26" r="0.9" fill="#1e4a8a"/>
<circle cx="382.50" cy="217.23" r="0.9" fill="#1e4a8a"/>
<circle cx="381.00" cy="229.54" r="0.9" fill="#1e4a8a"/>
<circle cx="379.50" cy="215.63" r="0.9" fill="#1e4a8a"/>
<circle cx="379.50" cy="231.03" r="0.9" fill="#1e4a8a"/>
<circle cx="381.00" cy="214.13" r="0.9" fill="#1e4a8a"/>
<circle cx="379.50" cy="233.06" r="0.9" fill="#1e4a8a"/>
<circle cx="379.50" cy="211.98" r="0.9" fill="#1e4a8a"/>
<circle cx="379.50" cy="235.36" r="0.9" fill="#1e4a8a"/>
<circle cx="379.50" cy="208.71" r="0.9" fill="#1e4a8a"/>
<circle cx="379.50" cy="238.07" r="0.9" fill="#1e4a8a"/>
<line x1="375.0" y1="223.2" x2="384.0" y2="223.2" stroke="#1e4a8a" stroke-width="1.1" />
<line x1="379.5" y1="221.79999999999998" x2="379.5" y2="224.6" stroke="#1e4a8a" stroke-width="1.1" />
<circle cx="397.60" cy="225.89" r="0.6499999999999999" fill="none" stroke="#86abde" stroke-width="0.6"/>
<circle cx="400.80" cy="226.41" r="0.6499999999999999" fill="none" stroke="#86abde" stroke-width="0.6"/>
<circle cx="394.40" cy="225.05" r="0.6499999999999999" fill="none" stroke="#86abde" stroke-width="0.6"/>
<circle cx="395.15" cy="227.02" r="0.6499999999999999" fill="none" stroke="#86abde" stroke-width="0.6"/>
<circle cx="399.20" cy="224.26" r="0.6499999999999999" fill="none" stroke="#86abde" stroke-width="0.6"/>
<circle cx="397.60" cy="228.11" r="0.6499999999999999" fill="none" stroke="#86abde" stroke-width="0.6"/>
<circle cx="397.60" cy="247.10" r="0.6499999999999999" fill="none" stroke="#86abde" stroke-width="0.6"/>
<line x1="393.1" y1="226" x2="402.1" y2="226" stroke="#86abde" stroke-width="1.1" />
<line x1="397.6" y1="224.8" x2="397.6" y2="227.2" stroke="#86abde" stroke-width="1.1" />
<circle cx="408.70" cy="230.05" r="0.9" fill="#1e4a8a"/>
<circle cx="411.70" cy="231.01" r="0.9" fill="#1e4a8a"/>
<circle cx="405.70" cy="229.19" r="0.9" fill="#1e4a8a"/>
<circle cx="408.70" cy="232.37" r="0.9" fill="#1e4a8a"/>
<circle cx="408.70" cy="227.82" r="0.9" fill="#1e4a8a"/>
<circle cx="410.20" cy="233.94" r="0.9" fill="#1e4a8a"/>
<circle cx="408.70" cy="225.88" r="0.9" fill="#1e4a8a"/>
<circle cx="410.20" cy="224.16" r="0.9" fill="#1e4a8a"/>
<circle cx="408.70" cy="236.47" r="0.9" fill="#1e4a8a"/>
<circle cx="408.70" cy="221.67" r="0.9" fill="#1e4a8a"/>
<line x1="404.2" y1="230.3" x2="413.2" y2="230.3" stroke="#1e4a8a" stroke-width="1.1" />
<line x1="408.7" y1="228.9" x2="408.7" y2="231.70000000000002" stroke="#1e4a8a" stroke-width="1.1" />
<circle cx="437.50" cy="228.64" r="0.9" fill="#1e4a8a"/>
<circle cx="439.00" cy="226.92" r="0.9" fill="#1e4a8a"/>
<circle cx="437.50" cy="230.64" r="0.9" fill="#1e4a8a"/>
<circle cx="437.50" cy="233.50" r="0.9" fill="#1e4a8a"/>
<line x1="433.0" y1="228.3" x2="442.0" y2="228.3" stroke="#1e4a8a" stroke-width="1.1" />
<line x1="437.5" y1="226.9" x2="437.5" y2="229.70000000000002" stroke="#1e4a8a" stroke-width="1.1" />
<circle cx="231.5" cy="266.3" r="0.8" fill="#86abde"/>
<circle cx="231.1" cy="276.6" r="0.8" fill="#1e4a8a"/>
<text x="239.8" y="269.1" font-size="8.2" text-anchor="start" font-weight="normal" font-style="normal" fill="#1e1e1e" stroke="#1e1e1e" stroke-width="0.2296" >SED</text>
<text x="239.8" y="279.8" font-size="8.2" text-anchor="start" font-weight="normal" font-style="normal" fill="#1e1e1e" stroke="#1e1e1e" stroke-width="0.2296" >EXE</text>
<circle cx="260.45" cy="267.05" r="1.60" fill="none" stroke="#2a2a2a" stroke-width="0.9"/>
<line x1="261.58119999999997" y1="265.91880000000003" x2="264.55" y2="263.75" stroke="#2a2a2a" stroke-width="0.9" />
<path d="M261.25 263.75 H264.55 V267.05" fill="none" stroke="#2a2a2a" stroke-width="0.9450000000000001" />
<circle cx="260.45" cy="277.75" r="1.60" fill="none" stroke="#2a2a2a" stroke-width="0.9"/>
<line x1="261.58119999999997" y1="276.6188" x2="264.55" y2="274.45" stroke="#2a2a2a" stroke-width="0.9" />
<path d="M261.25 274.45 H264.55 V277.75" fill="none" stroke="#2a2a2a" stroke-width="0.9450000000000001" />
<text x="245.0" y="186.7" font-size="7.3" text-anchor="start" font-weight="normal" font-style="normal" fill="#2e2e2e" stroke="#2e2e2e" stroke-width="0.2044" ><tspan font-style="italic">P</tspan>=0.005</text>
<path d="M252.1 194 V190.3 H266.3 V194" fill="none" stroke="#262626" stroke-width="1" />
<text x="459.3" y="15.1" font-size="15.5" text-anchor="start" font-weight="bold" font-style="normal" fill="#000" stroke="#000" stroke-width="0.35" >d</text>
<line x1="499.2" y1="16.2" x2="499.2" y2="121.5" stroke="#262626" stroke-width="1.1" />
<line x1="498.7" y1="121" x2="678.8" y2="121" stroke="#262626" stroke-width="1.1" />
<line x1="495.8" y1="121.0" x2="499.2" y2="121.0" stroke="#262626" stroke-width="1" />
<text x="494.8" y="124.6" font-size="10" text-anchor="end" font-weight="normal" font-style="normal" fill="#1e1e1e" stroke="#1e1e1e" stroke-width="0.28" >0</text>
<line x1="495.8" y1="73.6" x2="499.2" y2="73.6" stroke="#262626" stroke-width="1" />
<text x="494.8" y="77.19999999999999" font-size="10" text-anchor="end" font-weight="normal" font-style="normal" fill="#1e1e1e" stroke="#1e1e1e" stroke-width="0.28" >50</text>
<line x1="495.8" y1="26.200000000000003" x2="499.2" y2="26.200000000000003" stroke="#262626" stroke-width="1" />
<text x="494.8" y="29.800000000000004" font-size="10" text-anchor="end" font-weight="normal" font-style="normal" fill="#1e1e1e" stroke="#1e1e1e" stroke-width="0.28" >100</text>
<line x1="499.2" y1="121" x2="499.2" y2="124" stroke="#262626" stroke-width="1" />
<text x="499.2" y="134.7" font-size="10" text-anchor="middle" font-weight="normal" font-style="normal" fill="#1e1e1e" stroke="#1e1e1e" stroke-width="0.28" >0</text>
<line x1="544.05" y1="121" x2="544.05" y2="124" stroke="#262626" stroke-width="1" />
<text x="544.05" y="134.7" font-size="10" text-anchor="middle" font-weight="normal" font-style="normal" fill="#1e1e1e" stroke="#1e1e1e" stroke-width="0.28" >10</text>
<line x1="588.9" y1="121" x2="588.9" y2="124" stroke="#262626" stroke-width="1" />
<text x="588.9" y="134.7" font-size="10" text-anchor="middle" font-weight="normal" font-style="normal" fill="#1e1e1e" stroke="#1e1e1e" stroke-width="0.28" >20</text>
<line x1="633.75" y1="121" x2="633.75" y2="124" stroke="#262626" stroke-width="1" />
<text x="633.75" y="134.7" font-size="10" text-anchor="middle" font-weight="normal" font-style="normal" fill="#1e1e1e" stroke="#1e1e1e" stroke-width="0.28" >30</text>
<line x1="678.6" y1="121" x2="678.6" y2="124" stroke="#262626" stroke-width="1" />
<text x="678.6" y="134.7" font-size="10" text-anchor="middle" font-weight="normal" font-style="normal" fill="#1e1e1e" stroke="#1e1e1e" stroke-width="0.28" >40</text>
<text x="589.0" y="149.3" font-size="10.75" text-anchor="middle" font-weight="normal" font-style="normal" fill="#1e1e1e" stroke="#1e1e1e" stroke-width="0.301" >Age (mo)</text>
<text transform="translate(473.3 65.6) rotate(-90)" font-size="10.75" text-anchor="middle" fill="#1e1e1e" stroke="#1e1e1e" stroke-width="0.29">Survival (%)</text>
<text x="504.8" y="19.2" font-size="8.2" text-anchor="start" font-weight="normal" font-style="normal" fill="#1e1e1e" stroke="#1e1e1e" stroke-width="0.2296" ><tspan font-style="italic">P</tspan>=0.072</text>
<path d="M499.20 26.55 L540.70 26.55 L540.70 28.35 L566.30 28.35 L566.30 30.35 L580.10 30.35 L580.10 32.15 L587.50 32.15 L587.50 33.95 L590.00 33.95 L590.00 37.55 L597.00 37.55 L597.00 39.75 L609.00 39.75 L609.00 41.65 L612.20 41.65 L612.20 48.75 L614.70 48.75 L614.70 51.35 L615.65 51.35 L615.65 53.55 L616.60 53.55 L616.60 55.75 L617.55 55.75 L617.55 57.30 L618.50 57.30 L618.50 58.85 L619.45 58.85 L619.45 60.45 L620.40 60.45 L620.40 62.05 L622.00 62.05 L622.00 63.95 L625.00 63.95 L625.80 63.95 L625.80 66.30 L626.60 66.30 L626.60 68.65 L627.70 68.65 L627.70 70.30 L628.80 70.30 L628.80 71.95 L632.70 71.95 L632.70 74.15 L635.50 74.15 L635.50 76.95 L637.15 76.95 L637.15 78.60 L638.80 78.60 L638.80 80.25 L642.10 80.25 L642.10 83.05 L642.27 83.05 L642.27 84.95 L642.43 84.95 L642.43 86.85 L642.60 86.85 L642.60 88.75 L645.40 88.75 L645.40 90.85 L646.45 90.85 L646.45 93.25 L647.50 93.25 L647.50 95.65 L648.55 95.65 L648.55 97.75 L649.60 97.75 L649.60 99.85 L649.72 99.85 L649.72 101.67 L649.83 101.67 L649.83 103.48 L649.95 103.48 L649.95 105.30 L650.07 105.30 L650.07 107.12 L650.18 107.12 L650.18 108.93 L650.30 108.93 L650.30 110.75 L657.30 110.75 L657.30 117.25 L662.10 117.25 L662.10 121.35" fill="none" stroke="#a9121a" stroke-width="1.7" stroke-linejoin="miter"/>
<path d="M499.20 26.55 L534.30 26.55 L534.30 28.35 L566.30 28.35 L566.30 30.35 L590.70 30.35 L590.70 32.35 L602.10 32.35 L602.10 36.15 L613.50 36.15 L613.50 38.05 L615.40 38.05 L615.40 40.55 L618.20 40.55 L618.20 42.45 L619.80 42.45 L619.80 45.65 L621.10 45.65 L621.10 48.75 L622.30 48.75 L622.30 52.55 L623.30 52.55 L624.70 52.55 L624.70 54.20 L626.10 54.20 L626.10 55.85 L627.75 55.85 L627.75 58.10 L629.40 58.10 L629.40 60.35 L629.70 60.35 L629.70 62.00 L630.00 62.00 L630.00 63.65 L630.80 63.65 L630.80 65.60 L631.60 65.60 L631.60 67.55 L632.15 67.55 L632.15 70.00 L632.70 70.00 L632.70 72.45 L633.00 72.45 L633.00 74.70 L633.30 74.70 L633.30 76.95 L633.39 76.95 L633.39 78.84 L633.47 78.84 L633.47 80.72 L633.56 80.72 L633.56 82.61 L633.64 82.61 L633.64 84.49 L633.73 84.49 L633.73 86.38 L633.81 86.38 L633.81 88.26 L633.90 88.26 L633.90 90.15 L634.80 90.15 L634.80 92.20 L635.70 92.20 L635.70 94.25 L635.78 94.25 L635.78 96.21 L635.86 96.21 L635.86 98.17 L635.94 98.17 L635.94 100.13 L636.02 100.13 L636.02 102.09 L636.10 102.09 L636.10 104.05 L636.45 104.05 L636.45 106.15 L636.80 106.15 L636.80 108.25 L637.15 108.25 L637.15 110.35 L637.50 110.35 L637.50 112.45 L643.30 112.45 L643.30 117.75 L645.40 117.75 L645.40 119.25 L648.90 119.25 L648.90 121.35" fill="none" stroke="#f27a84" stroke-width="1.7" stroke-linejoin="miter"/>
<line x1="506.0" y1="101.9" x2="514.2" y2="101.9" stroke="#f27a84" stroke-width="1.9" />
<line x1="510.2" y1="99.6" x2="510.2" y2="101.9" stroke="#f27a84" stroke-width="0.9" />
<line x1="506.0" y1="111.9" x2="514.2" y2="111.9" stroke="#a9121a" stroke-width="1.9" />
<line x1="510.2" y1="109.6" x2="510.2" y2="111.9" stroke="#a9121a" stroke-width="0.9" />
<text x="518.9" y="104.4" font-size="7.8" text-anchor="start" font-weight="normal" font-style="normal" fill="#1e1e1e" stroke="#1e1e1e" stroke-width="0.2184" >SED</text>
<text x="518.9" y="114.1" font-size="7.8" text-anchor="start" font-weight="normal" font-style="normal" fill="#1e1e1e" stroke="#1e1e1e" stroke-width="0.2184" >EXE</text>
<circle cx="539.95" cy="100.15" r="1.43" fill="none" stroke="#2a2a2a" stroke-width="0.85"/>
<line x1="539.9499999999999" y1="101.57499999999999" x2="539.9499999999999" y2="105.1" stroke="#2a2a2a" stroke-width="0.85" />
<line x1="536.9" y1="102.6325" x2="542.9999999999999" y2="102.6325" stroke="#2a2a2a" stroke-width="0.85" />
<circle cx="539.95" cy="109.85" r="1.43" fill="none" stroke="#2a2a2a" stroke-width="0.85"/>
<line x1="539.9499999999999" y1="111.27499999999999" x2="539.9499999999999" y2="114.8" stroke="#2a2a2a" stroke-width="0.85" />
<line x1="536.9" y1="112.3325" x2="542.9999999999999" y2="112.3325" stroke="#2a2a2a" stroke-width="0.85" />
<text x="545.1" y="104.4" font-size="7.8" text-anchor="start" font-weight="normal" font-style="normal" fill="#1e1e1e" stroke="#1e1e1e" stroke-width="0.2184" >(n=48)</text>
<text x="545.1" y="114.1" font-size="7.8" text-anchor="start" font-weight="normal" font-style="normal" fill="#1e1e1e" stroke="#1e1e1e" stroke-width="0.2184" >(n=49)</text>
<text x="459.3" y="169.4" font-size="15.5" text-anchor="start" font-weight="bold" font-style="normal" fill="#000" stroke="#000" stroke-width="0.35" >e</text>
<line x1="499.2" y1="179.3" x2="499.2" y2="285.0" stroke="#262626" stroke-width="1.1" />
<line x1="498.7" y1="284.5" x2="678.8" y2="284.5" stroke="#262626" stroke-width="1.1" />
<line x1="495.8" y1="284.5" x2="499.2" y2="284.5" stroke="#262626" stroke-width="1" />
<text x="494.8" y="288.1" font-size="10" text-anchor="end" font-weight="normal" font-style="normal" fill="#1e1e1e" stroke="#1e1e1e" stroke-width="0.28" >0</text>
<line x1="495.8" y1="236.9" x2="499.2" y2="236.9" stroke="#262626" stroke-width="1" />
<text x="494.8" y="240.5" font-size="10" text-anchor="end" font-weight="normal" font-style="normal" fill="#1e1e1e" stroke="#1e1e1e" stroke-width="0.28" >50</text>
<line x1="495.8" y1="189.3" x2="499.2" y2="189.3" stroke="#262626" stroke-width="1" />
<text x="494.8" y="192.9" font-size="10" text-anchor="end" font-weight="normal" font-style="normal" fill="#1e1e1e" stroke="#1e1e1e" stroke-width="0.28" >100</text>
<line x1="499.2" y1="284.5" x2="499.2" y2="287.5" stroke="#262626" stroke-width="1" />
<text x="499.2" y="298.2" font-size="10" text-anchor="middle" font-weight="normal" font-style="normal" fill="#1e1e1e" stroke="#1e1e1e" stroke-width="0.28" >0</text>
<line x1="544.05" y1="284.5" x2="544.05" y2="287.5" stroke="#262626" stroke-width="1" />
<text x="544.05" y="298.2" font-size="10" text-anchor="middle" font-weight="normal" font-style="normal" fill="#1e1e1e" stroke="#1e1e1e" stroke-width="0.28" >10</text>
<line x1="588.9" y1="284.5" x2="588.9" y2="287.5" stroke="#262626" stroke-width="1" />
<text x="588.9" y="298.2" font-size="10" text-anchor="middle" font-weight="normal" font-style="normal" fill="#1e1e1e" stroke="#1e1e1e" stroke-width="0.28" >20</text>
<line x1="633.75" y1="284.5" x2="633.75" y2="287.5" stroke="#262626" stroke-width="1" />
<text x="633.75" y="298.2" font-size="10" text-anchor="middle" font-weight="normal" font-style="normal" fill="#1e1e1e" stroke="#1e1e1e" stroke-width="0.28" >30</text>
<line x1="678.6" y1="284.5" x2="678.6" y2="287.5" stroke="#262626" stroke-width="1" />
<text x="678.6" y="298.2" font-size="10" text-anchor="middle" font-weight="normal" font-style="normal" fill="#1e1e1e" stroke="#1e1e1e" stroke-width="0.28" >40</text>
<text x="589.0" y="312.8" font-size="10.75" text-anchor="middle" font-weight="normal" font-style="normal" fill="#1e1e1e" stroke="#1e1e1e" stroke-width="0.301" >Age (mo)</text>
<text transform="translate(473.3 228.9) rotate(-90)" font-size="10.75" text-anchor="middle" fill="#1e1e1e" stroke="#1e1e1e" stroke-width="0.29">Survival (%)</text>
<text x="504.8" y="182.5" font-size="8.2" text-anchor="start" font-weight="normal" font-style="normal" fill="#1e1e1e" stroke="#1e1e1e" stroke-width="0.2296" ><tspan font-style="italic">P</tspan>=0.582</text>
<path d="M499.20 189.40 L596.30 189.40 L596.63 189.40 L596.63 191.00 L596.97 191.00 L596.97 192.60 L597.30 192.60 L597.30 194.20 L597.63 194.20 L597.63 195.80 L597.97 195.80 L597.97 197.40 L598.30 197.40 L598.30 199.00 L601.60 199.00 L601.60 200.00 L605.60 200.00 L605.60 201.00 L605.60 207.60 L606.95 207.60 L606.95 208.90 L608.30 208.90 L608.30 210.20 L608.95 210.20 L608.95 211.90 L609.60 211.90 L609.60 213.60 L609.79 213.60 L609.79 215.23 L609.97 215.23 L609.97 216.86 L610.16 216.86 L610.16 218.49 L610.34 218.49 L610.34 220.11 L610.53 220.11 L610.53 221.74 L610.71 221.74 L610.71 223.37 L610.90 223.37 L610.90 225.00 L610.93 225.00 L610.93 226.72 L610.97 226.72 L610.97 228.43 L611.00 228.43 L611.00 230.15 L611.03 230.15 L611.03 231.87 L611.07 231.87 L611.07 233.58 L611.10 233.58 L611.10 235.30 L613.90 235.30 L613.90 240.80 L614.28 240.80 L614.28 242.38 L614.66 242.38 L614.66 243.96 L615.04 243.96 L615.04 245.54 L615.42 245.54 L615.42 247.12 L615.80 247.12 L615.80 248.70 L616.12 248.70 L616.12 250.27 L616.45 250.27 L616.45 251.85 L616.77 251.85 L616.77 253.43 L617.10 253.43 L617.10 255.00 L622.80 255.00 L623.55 255.00 L623.55 256.75 L624.30 256.75 L624.30 258.50 L624.77 258.50 L624.77 260.17 L625.23 260.17 L625.23 261.83 L625.70 261.83 L625.70 263.50 L632.10 263.50 L632.33 263.50 L632.33 265.40 L632.57 265.40 L632.57 267.30 L632.80 267.30 L632.80 269.20 L633.85 269.20 L633.85 270.65 L634.90 270.65 L634.90 272.10 L637.10 272.10 L637.80 272.10 L637.80 273.50 L638.50 273.50 L638.50 274.90 L639.20 274.90 L639.20 276.70 L639.90 276.70 L639.90 278.50 L649.20 278.50 L649.55 278.50 L649.55 279.90 L649.90 279.90 L649.90 281.30 L652.00 281.30 L652.30 281.30 L652.30 283.20 L656.30 283.20 L656.30 284.50" fill="none" stroke="#1f4b8c" stroke-width="1.7" stroke-linejoin="miter"/>
<path d="M499.20 189.40 L557.70 189.40 L557.70 191.60 L579.90 191.60 L579.90 193.50 L582.70 193.50 L582.70 199.60 L595.60 199.60 L595.60 201.60 L596.27 201.60 L596.27 203.60 L596.93 203.60 L596.93 205.60 L597.60 205.60 L597.60 207.60 L601.60 207.60 L603.60 207.60 L603.60 210.20 L607.60 210.20 L607.60 211.20 L610.20 211.20 L610.20 212.90 L610.43 212.90 L610.43 214.92 L610.67 214.92 L610.67 216.93 L610.90 216.93 L610.90 218.95 L611.13 218.95 L611.13 220.97 L611.37 220.97 L611.37 222.98 L611.60 222.98 L611.60 225.00 L611.67 225.00 L611.67 227.18 L611.75 227.18 L611.75 229.35 L611.83 229.35 L611.83 231.52 L611.90 231.52 L611.90 233.70 L613.05 233.70 L613.05 235.30 L614.20 235.30 L614.20 236.90 L614.75 236.90 L614.75 238.93 L615.30 238.93 L615.30 240.95 L615.85 240.95 L615.85 242.97 L616.40 242.97 L616.40 245.00 L617.10 245.00 L617.10 247.50 L617.80 247.50 L617.80 250.00 L618.77 250.00 L618.77 251.90 L619.73 251.90 L619.73 253.80 L620.70 253.80 L620.70 255.70 L621.40 255.70 L621.40 257.83 L622.10 257.83 L622.10 259.97 L622.80 259.97 L622.80 262.10 L623.53 262.10 L623.53 264.47 L624.27 264.47 L624.27 266.83 L625.00 266.83 L625.00 269.20 L625.93 269.20 L625.93 271.10 L626.87 271.10 L626.87 273.00 L627.80 273.00 L627.80 274.90 L628.90 274.90 L628.90 277.05 L630.00 277.05 L630.00 279.20 L631.05 279.20 L631.05 280.95 L632.10 280.95 L632.10 282.70 L632.80 282.70 L632.80 284.50" fill="none" stroke="#8fb3e2" stroke-width="1.7" stroke-linejoin="miter"/>
<line x1="506" y1="264.1" x2="514.1" y2="264.1" stroke="#8fb3e2" stroke-width="1.9" />
<line x1="510.1" y1="261.8" x2="510.1" y2="264.1" stroke="#8fb3e2" stroke-width="0.9" />
<line x1="506" y1="274.3" x2="514.1" y2="274.3" stroke="#1f4b8c" stroke-width="1.9" />
<line x1="510.1" y1="272.0" x2="510.1" y2="274.3" stroke="#1f4b8c" stroke-width="0.9" />
<text x="518.9" y="266.6" font-size="7.8" text-anchor="start" font-weight="normal" font-style="normal" fill="#1e1e1e" stroke="#1e1e1e" stroke-width="0.2184" >SED</text>
<text x="518.9" y="276.6" font-size="7.8" text-anchor="start" font-weight="normal" font-style="normal" fill="#1e1e1e" stroke="#1e1e1e" stroke-width="0.2184" >EXE</text>
<circle cx="538.60" cy="265.20" r="1.35" fill="none" stroke="#2a2a2a" stroke-width="0.9"/>
<line x1="539.55445" y1="264.24555" x2="542.3499999999999" y2="261.65" stroke="#2a2a2a" stroke-width="0.9" />
<path d="M539.05 261.65 H542.35 V264.95" fill="none" stroke="#2a2a2a" stroke-width="0.9450000000000001" />
<circle cx="538.60" cy="275.20" r="1.35" fill="none" stroke="#2a2a2a" stroke-width="0.9"/>
<line x1="539.55445" y1="274.24555" x2="542.3499999999999" y2="271.65" stroke="#2a2a2a" stroke-width="0.9" />
<path d="M539.05 271.65 H542.35 V274.95" fill="none" stroke="#2a2a2a" stroke-width="0.9450000000000001" />
<text x="544.3" y="266.6" font-size="7.8" text-anchor="start" font-weight="normal" font-style="normal" fill="#1e1e1e" stroke="#1e1e1e" stroke-width="0.2184" >(n=47)</text>
<text x="544.3" y="276.6" font-size="7.8" text-anchor="start" font-weight="normal" font-style="normal" fill="#1e1e1e" stroke="#1e1e1e" stroke-width="0.2184" >(n=56)</text>
</svg>
</body></html>
